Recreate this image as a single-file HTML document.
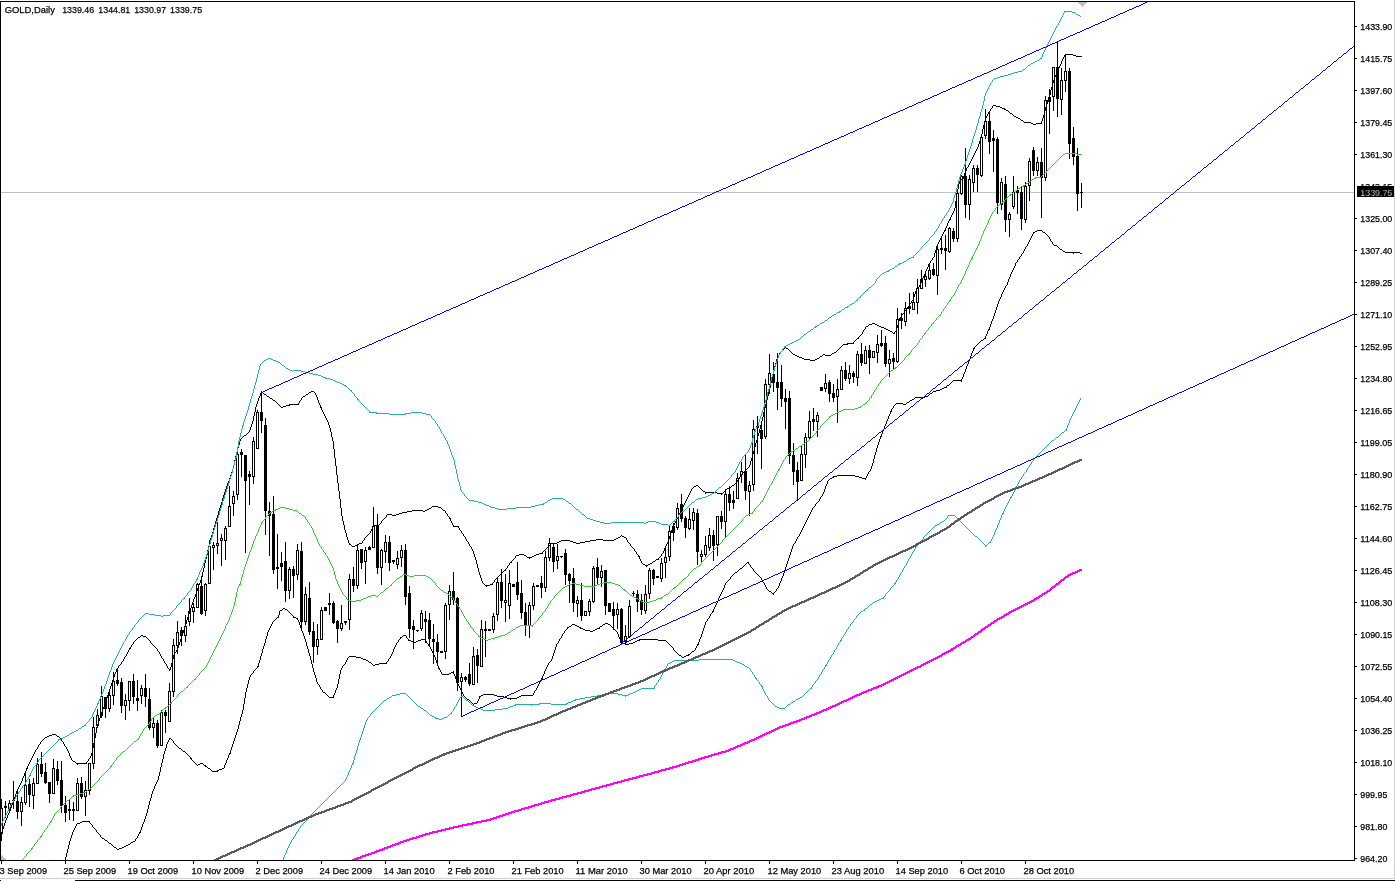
<!DOCTYPE html>
<html><head><meta charset="utf-8"><title>GOLD,Daily</title>
<style>
html,body{margin:0;padding:0;background:#fff;}
body{width:1395px;height:881px;overflow:hidden;position:relative;font-family:"Liberation Sans",sans-serif;}
svg{position:absolute;left:0;top:0;display:block;}
text{font-family:"Liberation Sans",sans-serif;font-size:9.7px;fill:#000;stroke:#000;stroke-width:0.25px;}
</style></head><body>
<svg width="1395" height="881" viewBox="0 0 1395 881" shape-rendering="crispEdges">
<rect x="0" y="0" width="1395" height="881" fill="#fff"/>

<defs><clipPath id="c"><rect x="1" y="2" width="1353" height="858"/></clipPath></defs>
<g clip-path="url(#c)">
<rect x="1" y="192" width="1354" height="1" fill="#c0c0c0"/>
<path d="M1 799h1v42h-1zM5 801h1v17h-1zM9 800h1v12h-1zM13 781h1v28h-1zM17 791h1v28h-1zM21 797h1v29h-1zM25 773h1v32h-1zM29 779h1v28h-1zM33 778h1v31h-1zM37 758h1v26h-1zM41 752h1v25h-1zM45 763h1v21h-1zM49 782h1v21h-1zM53 759h1v35h-1zM57 761h1v24h-1zM61 761h1v52h-1zM65 796h1v26h-1zM69 799h1v21h-1zM73 802h1v19h-1zM77 778h1v33h-1zM81 777h1v22h-1zM85 781h1v35h-1zM89 763h1v32h-1zM93 717h1v52h-1zM97 709h1v19h-1zM101 686h1v32h-1zM105 697h1v21h-1zM109 690h1v22h-1zM113 672h1v33h-1zM117 669h1v17h-1zM121 678h1v35h-1zM125 694h1v26h-1zM129 681h1v30h-1zM133 674h1v30h-1zM137 680h1v31h-1zM141 685h1v19h-1zM145 674h1v33h-1zM149 688h1v42h-1zM153 717h1v21h-1zM157 720h1v28h-1zM161 710h1v36h-1zM165 710h1v23h-1zM169 683h1v39h-1zM173 639h1v58h-1zM177 621h1v33h-1zM181 627h1v19h-1zM185 615h1v27h-1zM189 598h1v28h-1zM193 603h1v20h-1zM197 583h1v25h-1zM201 576h1v39h-1zM205 583h1v33h-1zM209 540h1v44h-1zM213 542h1v28h-1zM217 522h1v32h-1zM221 534h1v32h-1zM225 526h1v34h-1zM229 486h1v41h-1zM233 491h1v25h-1zM237 452h1v48h-1zM241 449h1v28h-1zM245 455h1v98h-1zM249 471h1v34h-1zM253 437h1v47h-1zM257 410h1v39h-1zM261 391h1v42h-1zM265 418h1v117h-1zM269 502h1v54h-1zM273 496h1v78h-1zM277 534h1v55h-1zM281 552h1v29h-1zM285 542h1v60h-1zM289 567h1v32h-1zM293 566h1v32h-1zM297 544h1v36h-1zM301 542h1v86h-1zM305 587h1v38h-1zM309 582h1v53h-1zM313 622h1v41h-1zM317 624h1v31h-1zM321 607h1v33h-1zM325 607h1v4h-1zM329 593h1v22h-1zM333 601h1v23h-1zM337 620h1v23h-1zM341 605h1v26h-1zM345 621h1v4h-1zM349 574h1v56h-1zM353 567h1v25h-1zM357 546h1v43h-1zM361 549h1v20h-1zM365 547h1v37h-1zM369 546h1v4h-1zM373 507h1v41h-1zM377 514h1v60h-1zM381 549h1v36h-1zM385 535h1v28h-1zM389 536h1v35h-1zM393 560h1v4h-1zM397 551h1v18h-1zM401 545h1v22h-1zM405 544h1v61h-1zM409 586h1v52h-1zM413 620h1v29h-1zM417 630h1v2h-1zM421 610h1v21h-1zM425 611h1v32h-1zM429 613h1v34h-1zM433 624h1v40h-1zM437 634h1v29h-1zM441 651h1v2h-1zM445 603h1v56h-1zM449 585h1v35h-1zM453 572h1v33h-1zM457 597h1v94h-1zM461 673h1v44h-1zM465 676h1v6h-1zM469 663h1v23h-1zM473 647h1v38h-1zM477 649h1v34h-1zM481 620h1v47h-1zM485 621h1v36h-1zM489 629h1v2h-1zM493 613h1v20h-1zM497 578h1v43h-1zM501 569h1v39h-1zM505 574h1v48h-1zM509 570h1v49h-1zM513 584h1v3h-1zM517 562h1v38h-1zM521 580h1v39h-1zM525 603h1v33h-1zM529 602h1v36h-1zM533 583h1v27h-1zM537 585h1v2h-1zM541 576h1v22h-1zM545 551h1v41h-1zM549 538h1v23h-1zM553 544h1v28h-1zM557 544h1v25h-1zM561 556h1v2h-1zM565 549h1v36h-1zM569 573h1v30h-1zM573 568h1v44h-1zM577 596h1v21h-1zM581 583h1v38h-1zM585 611h1v5h-1zM589 599h1v17h-1zM593 566h1v37h-1zM597 558h1v27h-1zM601 565h1v22h-1zM605 570h1v45h-1zM609 603h1v9h-1zM613 602h1v28h-1zM617 603h1v26h-1zM621 608h1v36h-1zM625 625h1v20h-1zM629 600h1v38h-1zM633 591h1v5h-1zM637 590h1v22h-1zM641 594h1v21h-1zM645 585h1v29h-1zM649 568h1v31h-1zM653 569h1v16h-1zM657 576h1v2h-1zM661 558h1v24h-1zM665 548h1v30h-1zM669 526h1v35h-1zM673 523h1v18h-1zM677 503h1v27h-1zM681 494h1v28h-1zM685 516h1v22h-1zM689 508h1v22h-1zM693 508h1v22h-1zM697 509h1v56h-1zM701 550h1v12h-1zM705 536h1v21h-1zM709 528h1v23h-1zM713 530h1v31h-1zM717 516h1v40h-1zM721 511h1v18h-1zM725 489h1v48h-1zM729 486h1v25h-1zM733 491h1v18h-1zM737 473h1v26h-1zM741 462h1v21h-1zM745 455h1v45h-1zM749 481h1v35h-1zM753 420h1v71h-1zM757 416h1v38h-1zM761 425h1v44h-1zM765 379h1v60h-1zM769 354h1v40h-1zM773 362h1v30h-1zM777 353h1v57h-1zM781 365h1v42h-1zM785 389h1v40h-1zM789 391h1v73h-1zM793 443h1v42h-1zM797 462h1v39h-1zM801 446h1v35h-1zM805 433h1v35h-1zM809 411h1v29h-1zM813 408h1v23h-1zM817 412h1v25h-1zM821 387h1v4h-1zM825 374h1v18h-1zM829 380h1v22h-1zM833 384h1v18h-1zM837 379h1v44h-1zM841 366h1v24h-1zM845 362h1v19h-1zM849 365h1v19h-1zM853 371h1v12h-1zM857 351h1v35h-1zM861 343h1v23h-1zM865 346h1v18h-1zM869 345h1v29h-1zM873 351h1v7h-1zM877 335h1v28h-1zM881 330h1v17h-1zM885 336h1v31h-1zM889 350h1v27h-1zM893 353h1v16h-1zM897 308h1v55h-1zM901 313h1v16h-1zM905 302h1v24h-1zM909 293h1v21h-1zM913 292h1v18h-1zM917 279h1v35h-1zM921 270h1v19h-1zM925 271h1v16h-1zM929 263h1v17h-1zM933 263h1v13h-1zM937 245h1v50h-1zM941 237h1v17h-1zM945 235h1v35h-1zM949 227h1v26h-1zM953 228h1v14h-1zM957 189h1v53h-1zM961 175h1v20h-1zM965 148h1v70h-1zM969 175h1v45h-1zM973 165h1v27h-1zM977 165h1v27h-1zM981 135h1v42h-1zM985 109h1v30h-1zM989 111h1v43h-1zM993 130h1v42h-1zM997 137h1v77h-1zM1001 178h1v32h-1zM1005 176h1v56h-1zM1009 212h1v25h-1zM1013 176h1v33h-1zM1017 186h1v28h-1zM1021 186h1v44h-1zM1025 182h1v41h-1zM1029 158h1v43h-1zM1033 147h1v29h-1zM1037 157h1v19h-1zM1041 148h1v70h-1zM1045 96h1v85h-1zM1049 89h1v45h-1zM1053 67h1v44h-1zM1057 42h1v75h-1zM1061 68h1v47h-1zM1065 54h1v38h-1zM1069 68h1v91h-1zM1073 127h1v38h-1zM1077 148h1v63h-1zM1081 183h1v25h-1z" fill="#000"/>
<path d="M0 808h3v26h-3zM4 806h3v2h-3zM8 803h3v7h-3zM12 800h3v1h-3zM16 801h3v11h-3zM20 802h3v10h-3zM24 785h3v18h-3zM28 784h3v11h-3zM32 783h3v13h-3zM36 764h3v20h-3zM40 764h3v10h-3zM44 772h3v11h-3zM48 782h3v12h-3zM52 768h3v26h-3zM56 769h3v12h-3zM60 780h3v26h-3zM64 805h3v8h-3zM68 809h3v2h-3zM72 809h3v2h-3zM76 783h3v28h-3zM80 783h3v14h-3zM84 790h3v7h-3zM88 763h3v28h-3zM92 727h3v37h-3zM96 715h3v11h-3zM100 696h3v20h-3zM104 697h3v12h-3zM108 695h3v14h-3zM112 681h3v15h-3zM116 680h3v4h-3zM120 682h3v24h-3zM124 700h3v6h-3zM128 681h3v20h-3zM132 681h3v16h-3zM136 698h3v3h-3zM140 688h3v8h-3zM144 688h3v9h-3zM148 699h3v29h-3zM152 723h3v5h-3zM156 723h3v23h-3zM160 712h3v34h-3zM164 712h3v4h-3zM168 691h3v31h-3zM172 645h3v47h-3zM176 632h3v14h-3zM180 630h3v6h-3zM184 626h3v10h-3zM188 611h3v11h-3zM192 607h3v5h-3zM196 584h3v24h-3zM200 586h3v28h-3zM204 584h3v27h-3zM208 546h3v38h-3zM212 545h3v3h-3zM216 543h3v3h-3zM220 538h3v3h-3zM224 528h3v13h-3zM228 506h3v21h-3zM232 496h3v8h-3zM236 454h3v41h-3zM240 452h3v3h-3zM244 455h3v26h-3zM248 474h3v3h-3zM252 441h3v36h-3zM256 412h3v37h-3zM260 412h3v9h-3zM264 425h3v86h-3zM268 511h3v5h-3zM272 514h3v56h-3zM276 567h3v2h-3zM280 563h3v4h-3zM284 561h3v30h-3zM288 569h3v22h-3zM292 569h3v7h-3zM296 550h3v25h-3zM300 551h3v71h-3zM304 594h3v28h-3zM308 598h3v34h-3zM312 631h3v16h-3zM316 639h3v8h-3zM320 610h3v30h-3zM324 607h3v4h-3zM328 603h3v2h-3zM332 603h3v20h-3zM336 621h3v8h-3zM340 623h3v6h-3zM344 621h3v2h-3zM348 579h3v41h-3zM352 579h3v7h-3zM356 550h3v36h-3zM360 549h3v14h-3zM364 550h3v12h-3zM368 547h3v3h-3zM372 526h3v22h-3zM376 526h3v42h-3zM380 550h3v18h-3zM384 542h3v10h-3zM388 542h3v21h-3zM392 560h3v2h-3zM396 558h3v7h-3zM400 550h3v8h-3zM404 550h3v47h-3zM408 593h3v36h-3zM412 626h3v4h-3zM416 630h3v1h-3zM420 613h3v16h-3zM424 619h3v3h-3zM428 620h3v19h-3zM432 639h3v3h-3zM436 642h3v10h-3zM440 651h3v2h-3zM444 605h3v47h-3zM448 591h3v14h-3zM452 591h3v9h-3zM456 598h3v85h-3zM460 677h3v5h-3zM464 677h3v3h-3zM468 674h3v10h-3zM472 656h3v29h-3zM476 655h3v11h-3zM480 629h3v38h-3zM484 629h3v2h-3zM488 629h3v2h-3zM492 616h3v14h-3zM496 582h3v33h-3zM500 582h3v19h-3zM504 600h3v3h-3zM508 583h3v23h-3zM512 584h3v3h-3zM516 582h3v13h-3zM520 593h3v20h-3zM524 612h3v14h-3zM528 605h3v21h-3zM532 586h3v20h-3zM536 585h3v2h-3zM540 583h3v5h-3zM544 557h3v31h-3zM548 543h3v15h-3zM552 547h3v15h-3zM556 556h3v5h-3zM560 556h3v1h-3zM564 553h3v22h-3zM568 574h3v7h-3zM572 578h3v25h-3zM576 600h3v4h-3zM580 600h3v16h-3zM584 611h3v5h-3zM588 601h3v11h-3zM592 568h3v34h-3zM596 567h3v11h-3zM600 571h3v7h-3zM604 570h3v36h-3zM608 603h3v9h-3zM612 609h3v7h-3zM616 609h3v6h-3zM620 609h3v34h-3zM624 636h3v6h-3zM628 606h3v31h-3zM632 593h3v1h-3zM636 594h3v8h-3zM640 600h3v10h-3zM644 594h3v17h-3zM648 570h3v24h-3zM652 570h3v9h-3zM656 576h3v2h-3zM660 563h3v16h-3zM664 557h3v6h-3zM668 531h3v26h-3zM672 526h3v7h-3zM676 508h3v20h-3zM680 504h3v15h-3zM684 518h3v10h-3zM688 519h3v10h-3zM692 512h3v9h-3zM696 513h3v39h-3zM700 554h3v3h-3zM704 545h3v10h-3zM708 535h3v13h-3zM712 535h3v11h-3zM716 516h3v29h-3zM720 516h3v6h-3zM724 494h3v28h-3zM728 494h3v9h-3zM732 500h3v3h-3zM736 478h3v21h-3zM740 471h3v4h-3zM744 471h3v20h-3zM748 485h3v7h-3zM752 429h3v56h-3zM756 426h3v2h-3zM760 430h3v9h-3zM764 384h3v53h-3zM768 373h3v12h-3zM772 374h3v9h-3zM776 382h3v6h-3zM780 382h3v17h-3zM784 398h3v4h-3zM788 398h3v58h-3zM792 455h3v17h-3zM796 470h3v12h-3zM800 454h3v27h-3zM804 437h3v18h-3zM808 421h3v17h-3zM812 419h3v3h-3zM816 415h3v7h-3zM820 387h3v4h-3zM824 383h3v6h-3zM828 382h3v12h-3zM832 393h3v5h-3zM836 389h3v8h-3zM840 370h3v20h-3zM844 370h3v9h-3zM848 373h3v6h-3zM852 373h3v4h-3zM856 354h3v24h-3zM860 354h3v9h-3zM864 350h3v14h-3zM868 350h3v8h-3zM872 351h3v7h-3zM876 344h3v9h-3zM880 343h3v3h-3zM884 343h3v21h-3zM888 359h3v5h-3zM892 358h3v4h-3zM896 319h3v43h-3zM900 318h3v3h-3zM904 308h3v14h-3zM908 306h3v3h-3zM912 302h3v8h-3zM916 288h3v15h-3zM920 279h3v10h-3zM924 276h3v4h-3zM928 270h3v9h-3zM932 269h3v6h-3zM936 249h3v27h-3zM940 248h3v2h-3zM944 248h3v3h-3zM948 228h3v24h-3zM952 231h3v8h-3zM956 193h3v46h-3zM960 176h3v18h-3zM964 176h3v29h-3zM968 179h3v26h-3zM972 168h3v15h-3zM976 168h3v7h-3zM980 137h3v39h-3zM984 121h3v15h-3zM988 121h3v21h-3zM992 138h3v3h-3zM996 139h3v64h-3zM1000 182h3v23h-3zM1004 184h3v36h-3zM1008 214h3v6h-3zM1012 192h3v15h-3zM1016 190h3v3h-3zM1020 192h3v27h-3zM1024 186h3v34h-3zM1028 161h3v25h-3zM1032 150h3v21h-3zM1036 162h3v9h-3zM1040 162h3v16h-3zM1044 100h3v78h-3zM1048 97h3v5h-3zM1052 67h3v30h-3zM1056 67h3v32h-3zM1060 80h3v20h-3zM1064 71h3v10h-3zM1068 71h3v73h-3zM1072 138h3v19h-3zM1076 156h3v38h-3zM1080 192h3v1h-3z" fill="#000"/>
<path d="M1 809h1v24h-1zM9 804h1v5h-1zM21 803h1v8h-1zM25 786h1v16h-1zM33 784h1v11h-1zM37 765h1v18h-1zM53 769h1v24h-1zM77 784h1v26h-1zM85 791h1v5h-1zM89 764h1v26h-1zM93 728h1v35h-1zM97 716h1v9h-1zM101 697h1v18h-1zM109 696h1v12h-1zM113 682h1v13h-1zM125 701h1v4h-1zM129 682h1v18h-1zM141 689h1v6h-1zM153 724h1v3h-1zM161 713h1v32h-1zM169 692h1v29h-1zM173 646h1v45h-1zM177 633h1v12h-1zM185 627h1v8h-1zM189 612h1v9h-1zM193 608h1v3h-1zM197 585h1v22h-1zM205 585h1v25h-1zM209 547h1v36h-1zM213 546h1v1h-1zM217 544h1v1h-1zM221 539h1v1h-1zM225 529h1v11h-1zM229 507h1v19h-1zM233 497h1v6h-1zM237 455h1v39h-1zM253 442h1v34h-1zM257 413h1v35h-1zM289 570h1v20h-1zM297 551h1v23h-1zM305 595h1v26h-1zM317 640h1v6h-1zM321 611h1v28h-1zM341 624h1v4h-1zM349 580h1v39h-1zM357 551h1v34h-1zM365 551h1v10h-1zM373 527h1v20h-1zM381 551h1v16h-1zM385 543h1v8h-1zM397 559h1v5h-1zM401 551h1v6h-1zM421 614h1v14h-1zM445 606h1v45h-1zM449 592h1v12h-1zM461 678h1v3h-1zM473 657h1v27h-1zM481 630h1v36h-1zM493 617h1v12h-1zM497 583h1v31h-1zM505 601h1v1h-1zM509 584h1v21h-1zM529 606h1v19h-1zM533 587h1v18h-1zM545 558h1v29h-1zM549 544h1v13h-1zM557 557h1v3h-1zM577 601h1v2h-1zM585 612h1v3h-1zM589 602h1v9h-1zM593 569h1v32h-1zM601 572h1v5h-1zM617 610h1v4h-1zM625 637h1v4h-1zM629 607h1v29h-1zM645 595h1v15h-1zM649 571h1v22h-1zM661 564h1v14h-1zM665 558h1v4h-1zM669 532h1v24h-1zM677 509h1v18h-1zM689 520h1v8h-1zM693 513h1v7h-1zM701 555h1v1h-1zM705 546h1v8h-1zM709 536h1v11h-1zM717 517h1v27h-1zM725 495h1v26h-1zM737 479h1v19h-1zM741 472h1v2h-1zM749 486h1v5h-1zM753 430h1v54h-1zM765 385h1v51h-1zM769 374h1v10h-1zM801 455h1v25h-1zM805 438h1v16h-1zM809 422h1v15h-1zM817 416h1v5h-1zM825 384h1v4h-1zM837 390h1v6h-1zM841 371h1v18h-1zM849 374h1v4h-1zM857 355h1v22h-1zM865 351h1v12h-1zM873 352h1v5h-1zM877 345h1v7h-1zM889 360h1v3h-1zM897 320h1v41h-1zM905 309h1v12h-1zM913 303h1v6h-1zM917 289h1v13h-1zM921 280h1v8h-1zM925 277h1v2h-1zM929 271h1v7h-1zM937 250h1v25h-1zM949 229h1v22h-1zM957 194h1v44h-1zM961 177h1v16h-1zM969 180h1v24h-1zM973 169h1v13h-1zM981 138h1v37h-1zM985 122h1v13h-1zM1001 183h1v21h-1zM1009 215h1v4h-1zM1013 193h1v13h-1zM1025 187h1v32h-1zM1029 162h1v23h-1zM1037 163h1v7h-1zM1045 101h1v76h-1zM1053 68h1v28h-1zM1061 81h1v18h-1zM1065 72h1v8h-1z" fill="#fff"/>
<path d="M352 546h3v1h-3zM1 832h2v1h-2zM643 564h2v1h-2zM648 564h2v1h-2zM539 553h4v1h-4zM645 565h3v1h-3zM76 763h11v1h-11zM504 570h2v1h-2zM402 512h5v1h-5zM1031 123h2v1h-2zM1036 123h6v1h-6zM561 540h9v1h-9zM590 540h6v1h-6zM603 540h11v1h-11zM349 544h2v1h-2zM357 544h2v1h-2zM795 355h2v1h-2zM825 355h6v1h-6zM527 557h5v1h-5zM453 526h6v1h-6zM1021 120h2v1h-2zM1014 116h2v1h-2zM270 398h2v1h-2zM1065 54h8v1h-8zM886 329h2v1h-2zM267 396h2v1h-2zM303 396h2v1h-2zM449 518h2v1h-2zM596 539h7v1h-7zM614 539h2v1h-2zM359 543h3v1h-3zM550 543h7v1h-7zM576 543h4v1h-4zM96 727h2v1h-2zM47 736h2v1h-2zM57 736h2v1h-2zM485 585h5v1h-5zM877 325h2v1h-2zM793 354h2v1h-2zM823 354h2v1h-2zM717 493h6v1h-6zM866 326h2v1h-2zM879 326h2v1h-2zM696 485h2v1h-2zM732 485h2v1h-2zM1010 113h2v1h-2zM138 637h2v1h-2zM141 635h2v1h-2zM289 404h10v1h-10zM735 483h2v1h-2zM993 105h3v1h-3zM949 219h2v1h-2zM532 556h2v1h-2zM638 556h2v1h-2zM355 545h3v1h-3zM407 511h5v1h-5zM423 511h2v1h-2zM286 405h4v1h-4zM729 487h2v1h-2zM888 330h2v1h-2zM490 584h3v1h-3zM392 515h4v1h-4zM905 310h2v1h-2zM559 541h2v1h-2zM570 541h3v1h-3zM585 541h5v1h-5zM387 514h5v1h-5zM396 514h3v1h-3zM516 555h3v1h-3zM524 555h2v1h-2zM534 555h2v1h-2zM1024 122h7v1h-7zM996 106h4v1h-4zM281 407h2v1h-2zM320 407h2v1h-2zM653 561h2v1h-2zM810 360h5v1h-5zM772 374h2v1h-2zM52 734h4v1h-4zM799 357h3v1h-3zM519 554h5v1h-5zM536 554h3v1h-3zM373 525h6v1h-6zM705 492h12v1h-12zM899 318h2v1h-2zM311 391h3v1h-3zM273 400h2v1h-2zM1033 124h3v1h-3zM804 359h6v1h-6zM815 359h2v1h-2zM940 238h2v1h-2zM694 486h2v1h-2zM616 538h2v1h-2zM618 537h2v1h-2zM624 537h2v1h-2zM832 353h2v1h-2zM557 542h2v1h-2zM573 542h3v1h-3zM580 542h5v1h-5zM429 508h2v1h-2zM797 356h2v1h-2zM820 356h2v1h-2zM1002 108h3v1h-3zM1000 107h2v1h-2zM264 394h2v1h-2zM306 394h2v1h-2zM438 507h3v1h-3zM869 324h3v1h-3zM875 324h2v1h-2zM427 509h2v1h-2zM681 509h2v1h-2zM283 406h3v1h-3zM412 510h11v1h-11zM425 510h2v1h-2zM443 510h2v1h-2zM936 246h2v1h-2zM650 563h2v1h-2zM169 669h2v1h-2zM432 506h6v1h-6zM399 513h3v1h-3zM847 343h7v1h-7zM944 230h2v1h-2zM703 491h2v1h-2zM884 328h2v1h-2zM173 655h2v1h-2zM622 536h2v1h-2zM261 392h2v1h-2zM309 392h2v1h-2zM727 488h2v1h-2zM802 358h2v1h-2zM817 358h2v1h-2zM49 735h3v1h-3zM881 327h3v1h-3zM872 323h3v1h-3zM244 435h2v1h-2zM1073 55h3v1h-3zM834 352h2v1h-2zM1016 117h2v1h-2zM73 761h2v1h-2zM129 648h2v1h-2zM857 338h2v1h-2zM510 562h2v1h-2zM1004 109h2v1h-2zM1076 56h6v1h-6zM843 344h5v1h-5zM786 348h2v1h-2zM1018 118h2v1h-2zM890 331h2v1h-2zM962 178h2v1h-2zM143 636h3v1h-3zM656 559h3v1h-3zM1006 110h2v1h-2zM893 333h2v1h-2zM965 170h2v1h-2zM912 300h2v1h-2zM45 737h2v1h-2zM1049 94h2v1h-2zM26 768h2v1h-2zM188 614h1v3h-1zM631 546h1v1h-1zM105 701h1v3h-1zM254 412h1v4h-1zM129 649h1v1h-1zM195 594h1v3h-1zM772 375h1v4h-1zM221 502h1v3h-1zM346 533h1v4h-1zM175 652h1v1h-1zM113 677h1v3h-1zM1049 95h1v2h-1zM481 578h1v3h-1zM918 287h1v1h-1zM763 412h1v5h-1zM339 491h1v8h-1zM372 527h1v2h-1zM203 568h1v4h-1zM445 511h1v2h-1zM930 261h1v2h-1zM964 173h1v3h-1zM229 478h1v3h-1zM942 234h1v2h-1zM954 208h1v3h-1zM69 753h1v3h-1zM822 355h1v1h-1zM754 447h1v4h-1zM148 639h1v1h-1zM258 398h1v3h-1zM983 125h1v4h-1zM914 294h1v3h-1zM470 546h1v1h-1zM473 551h1v3h-1zM1053 80h1v3h-1zM938 242h1v2h-1zM775 363h1v3h-1zM166 664h1v2h-1zM38 745h1v2h-1zM864 329h1v1h-1zM137 638h1v1h-1zM767 396h1v4h-1zM26 769h1v2h-1zM92 748h1v5h-1zM167 666h1v2h-1zM342 516h1v5h-1zM668 539h1v3h-1zM734 484h1v1h-1zM338 483h1v8h-1zM132 644h1v1h-1zM1061 61h1v3h-1zM233 465h1v4h-1zM836 351h1v1h-1zM34 752h1v2h-1zM186 620h1v4h-1zM88 759h1v2h-1zM988 112h1v2h-1zM253 416h1v5h-1zM676 519h1v2h-1zM128 650h1v2h-1zM220 505h1v3h-1zM770 383h1v5h-1zM173 656h1v3h-1zM371 529h1v2h-1zM237 448h1v4h-1zM227 483h1v3h-1zM158 651h1v1h-1zM974 153h1v2h-1zM124 657h1v2h-1zM753 451h1v3h-1zM982 129h1v5h-1zM159 652h1v2h-1zM182 633h1v3h-1zM5 820h1v3h-1zM256 404h1v3h-1zM937 244h1v2h-1zM299 401h1v2h-1zM331 432h1v5h-1zM774 366h1v4h-1zM958 184h1v5h-1zM970 161h1v2h-1zM37 747h1v2h-1zM632 547h1v1h-1zM215 521h1v4h-1zM515 556h1v2h-1zM633 548h1v1h-1zM666 544h1v2h-1zM691 489h1v2h-1zM766 400h1v4h-1zM232 469h1v3h-1zM790 351h1v1h-1zM922 278h1v2h-1zM33 754h1v2h-1zM946 226h1v2h-1zM447 514h1v2h-1zM675 521h1v2h-1zM127 652h1v2h-1zM71 758h1v2h-1zM721 494h1v1h-1zM94 738h1v5h-1zM150 641h1v2h-1zM1057 70h1v3h-1zM172 659h1v4h-1zM335 458h1v8h-1zM236 452h1v4h-1zM472 549h1v2h-1zM235 456h1v4h-1zM123 659h1v2h-1zM761 421h1v4h-1zM4 823h1v3h-1zM255 407h1v5h-1zM969 163h1v2h-1zM957 189h1v5h-1zM337 475h1v8h-1zM1051 87h1v3h-1zM223 495h1v3h-1zM965 171h1v2h-1zM665 546h1v2h-1zM765 404h1v4h-1zM240 439h1v2h-1zM756 440h1v3h-1zM60 738h1v1h-1zM920 283h1v2h-1zM945 228h1v2h-1zM320 405h1v2h-1zM932 258h1v2h-1zM782 350h1v1h-1zM8 813h1v2h-1zM340 499h1v9h-1zM185 624h1v3h-1zM1048 97h1v3h-1zM904 311h1v2h-1zM777 357h1v2h-1zM661 554h1v2h-1zM453 525h1v1h-1zM769 388h1v4h-1zM327 420h1v2h-1zM218 511h1v4h-1zM760 425h1v4h-1zM475 557h1v3h-1zM179 642h1v3h-1zM634 549h1v2h-1zM343 521h1v4h-1zM968 165h1v2h-1zM548 546h1v1h-1zM635 551h1v1h-1zM980 138h1v3h-1zM1043 115h1v3h-1zM747 468h1v1h-1zM764 408h1v4h-1zM238 445h1v3h-1zM349 543h1v1h-1zM944 231h1v1h-1zM755 443h1v4h-1zM114 674h1v3h-1zM977 147h1v2h-1zM449 517h1v1h-1zM7 815h1v3h-1zM183 630h1v3h-1zM152 644h1v1h-1zM960 180h1v1h-1zM776 359h1v4h-1zM250 427h1v3h-1zM739 477h1v2h-1zM927 267h1v2h-1zM226 486h1v3h-1zM217 515h1v3h-1zM101 712h1v3h-1zM1054 77h1v3h-1zM15 794h1v3h-1zM680 511h1v2h-1zM842 345h1v1h-1zM336 466h1v9h-1zM39 744h1v1h-1zM234 460h1v5h-1zM759 429h1v4h-1zM860 335h1v1h-1zM750 461h1v4h-1zM669 536h1v3h-1zM1062 59h1v2h-1zM61 739h1v2h-1zM1041 121h1v2h-1zM62 741h1v1h-1zM441 508h1v1h-1zM976 149h1v2h-1zM42 740h1v1h-1zM959 181h1v3h-1zM738 479h1v1h-1zM840 347h1v1h-1zM926 269h1v2h-1zM972 157h1v2h-1zM950 217h1v2h-1zM200 580h1v3h-1zM474 554h1v3h-1zM14 797h1v2h-1zM679 513h1v2h-1zM496 578h1v1h-1zM992 106h1v2h-1zM910 303h1v1h-1zM477 564h1v4h-1zM758 433h1v3h-1zM96 728h1v5h-1zM22 778h1v3h-1zM664 548h1v3h-1zM104 704h1v3h-1zM688 495h1v2h-1zM194 597h1v2h-1zM955 201h1v7h-1zM111 683h1v3h-1zM762 417h1v4h-1zM984 121h1v4h-1zM503 571h1v1h-1zM341 508h1v8h-1zM386 515h1v2h-1zM298 403h1v1h-1zM207 550h1v5h-1zM514 558h1v1h-1zM949 220h1v1h-1zM332 437h1v4h-1zM116 669h1v3h-1zM909 304h1v2h-1zM757 436h1v4h-1zM21 781h1v2h-1zM674 523h1v2h-1zM483 583h1v1h-1zM687 497h1v2h-1zM17 789h1v2h-1zM778 355h1v2h-1zM29 762h1v2h-1zM683 505h1v2h-1zM107 695h1v3h-1zM197 588h1v3h-1zM176 650h1v2h-1zM334 449h1v9h-1zM239 441h1v4h-1zM317 397h1v3h-1zM184 627h1v3h-1zM373 526h1v1h-1zM724 491h1v1h-1zM259 396h1v2h-1zM468 542h1v2h-1zM16 791h1v3h-1zM865 327h1v2h-1zM28 764h1v2h-1zM157 649h1v2h-1zM740 475h1v2h-1zM768 392h1v4h-1zM160 654h1v2h-1zM899 319h1v2h-1zM953 211h1v2h-1zM366 536h1v1h-1zM98 721h1v3h-1zM956 194h1v7h-1zM861 334h1v1h-1zM478 568h1v4h-1zM896 328h1v3h-1zM196 591h1v3h-1zM263 393h1v1h-1zM743 472h1v1h-1zM209 542h1v4h-1zM43 739h1v1h-1zM841 346h1v1h-1zM692 488h1v1h-1zM187 617h1v3h-1zM333 441h1v8h-1zM380 523h1v1h-1zM315 393h1v2h-1zM322 410h1v2h-1zM963 176h1v2h-1zM975 151h1v2h-1zM463 534h1v2h-1zM466 539h1v2h-1zM329 425h1v3h-1zM163 659h1v2h-1zM1045 107h1v4h-1zM121 662h1v2h-1zM495 579h1v1h-1zM667 542h1v2h-1zM934 253h1v4h-1zM272 399h1v1h-1zM726 489h1v1h-1zM987 114h1v2h-1zM212 532h1v3h-1zM507 566h1v2h-1zM671 530h1v3h-1zM502 572h1v1h-1zM898 321h1v4h-1zM120 664h1v1h-1zM494 580h1v2h-1zM1 833h1v4h-1zM921 280h1v3h-1zM279 405h1v1h-1zM95 733h1v5h-1zM64 744h1v2h-1zM211 535h1v3h-1zM686 499h1v2h-1zM506 568h1v1h-1zM917 288h1v1h-1zM1056 73h1v2h-1zM941 236h1v2h-1zM658 558h1v1h-1zM328 422h1v3h-1zM1064 55h1v2h-1zM243 436h1v1h-1zM639 557h1v2h-1zM222 498h1v4h-1zM131 645h1v2h-1zM446 513h1v1h-1zM853 342h1v1h-1zM450 519h1v2h-1zM744 471h1v1h-1zM1047 100h1v4h-1zM940 239h1v1h-1zM952 213h1v2h-1zM916 289h1v2h-1zM928 264h1v3h-1zM365 537h1v1h-1zM134 641h1v1h-1zM1063 57h1v2h-1zM24 773h1v3h-1zM1042 118h1v3h-1zM269 397h1v1h-1zM66 747h1v2h-1zM126 654h1v2h-1zM501 573h1v1h-1zM225 489h1v3h-1zM652 562h1v1h-1zM110 686h1v3h-1zM122 661h1v1h-1zM384 518h1v1h-1zM3 826h1v3h-1zM364 538h1v2h-1zM117 668h1v1h-1zM637 554h1v1h-1zM379 524h1v1h-1zM87 761h1v1h-1zM638 555h1v1h-1zM23 776h1v2h-1zM35 750h1v2h-1zM1050 90h1v4h-1zM204 563h1v5h-1zM266 395h1v1h-1zM526 556h1v1h-1zM971 159h1v2h-1zM199 583h1v2h-1zM178 645h1v3h-1zM967 167h1v1h-1zM979 141h1v3h-1zM511 561h1v1h-1zM725 490h1v1h-1zM663 551h1v2h-1zM10 808h1v3h-1zM779 353h1v2h-1zM698 486h1v1h-1zM100 715h1v3h-1zM190 608h1v3h-1zM1044 111h1v4h-1zM198 585h1v3h-1zM545 549h1v1h-1zM831 354h1v1h-1zM115 672h1v2h-1zM275 401h1v1h-1zM966 168h1v2h-1zM276 402h1v1h-1zM933 257h1v1h-1zM9 811h1v2h-1zM146 637h1v1h-1zM819 357h1v1h-1zM260 393h1v3h-1zM321 408h1v2h-1zM324 414h1v2h-1zM465 537h1v2h-1zM202 572h1v5h-1zM41 741h1v1h-1zM161 656h1v2h-1zM670 533h1v3h-1zM682 507h1v2h-1zM731 486h1v1h-1zM839 348h1v1h-1zM913 297h1v3h-1zM925 271h1v3h-1zM189 611h1v3h-1zM1052 83h1v4h-1zM135 640h1v1h-1zM13 799h1v3h-1zM130 647h1v1h-1zM106 698h1v3h-1zM678 515h1v2h-1zM748 467h1v1h-1zM347 537h1v3h-1zM1060 64h1v2h-1zM482 581h1v2h-1zM961 179h1v1h-1zM193 599h1v3h-1zM301 398h1v2h-1zM431 507h1v1h-1zM752 454h1v4h-1zM627 540h1v2h-1zM701 489h1v1h-1zM40 742h1v2h-1zM981 134h1v4h-1zM936 247h1v3h-1zM773 370h1v4h-1zM948 221h1v2h-1zM97 724h1v3h-1zM788 349h1v1h-1zM677 517h1v2h-1zM895 331h1v1h-1zM316 395h1v2h-1zM508 565h1v1h-1zM277 403h1v1h-1zM1059 66h1v2h-1zM278 404h1v1h-1zM20 783h1v2h-1zM32 756h1v2h-1zM125 656h1v1h-1zM192 602h1v3h-1zM77 764h1v1h-1zM467 541h1v1h-1zM149 640h1v1h-1zM208 546h1v4h-1zM300 400h1v1h-1zM171 663h1v4h-1zM500 574h1v1h-1zM109 689h1v3h-1zM330 428h1v4h-1zM383 519h1v1h-1zM935 250h1v3h-1zM947 223h1v3h-1zM492 583h1v1h-1zM484 584h1v1h-1zM672 527h1v3h-1zM659 557h1v1h-1zM31 758h1v2h-1zM72 760h1v1h-1zM27 766h1v2h-1zM169 670h1v1h-1zM224 492h1v3h-1zM241 438h1v1h-1zM480 575h1v3h-1zM745 470h1v1h-1zM771 379h1v4h-1zM348 540h1v3h-1zM174 653h1v2h-1zM68 751h1v2h-1zM929 263h1v1h-1zM228 481h1v2h-1zM529 558h1v1h-1zM476 560h1v4h-1zM863 330h1v2h-1zM206 555h1v4h-1zM91 753h1v3h-1zM344 525h1v5h-1zM544 550h1v1h-1zM636 552h1v2h-1zM858 337h1v1h-1zM177 648h1v2h-1zM978 144h1v3h-1zM486 586h1v1h-1zM210 538h1v4h-1zM370 531h1v2h-1zM302 397h1v1h-1zM1020 119h1v1h-1zM181 636h1v3h-1zM838 349h1v1h-1zM36 749h1v1h-1zM862 332h1v2h-1zM990 109h1v2h-1zM362 541h1v2h-1zM214 525h1v3h-1zM690 491h1v2h-1zM479 572h1v3h-1zM986 116h1v2h-1zM67 749h1v2h-1zM153 645h1v1h-1zM93 743h1v5h-1zM44 738h1v1h-1zM973 155h1v2h-1zM180 639h1v3h-1zM911 301h1v2h-1zM693 487h1v1h-1zM512 560h1v1h-1zM213 528h1v4h-1zM641 561h1v2h-1zM689 493h1v2h-1zM907 307h1v2h-1zM780 352h1v1h-1zM308 393h1v1h-1zM448 516h1v1h-1zM723 492h1v1h-1zM902 314h1v1h-1zM685 501h1v2h-1zM326 418h1v2h-1zM323 412h1v2h-1zM499 575h1v1h-1zM546 548h1v1h-1zM2 829h1v3h-1zM345 530h1v3h-1zM784 348h1v1h-1zM280 406h1v1h-1zM65 746h1v1h-1zM459 528h1v2h-1zM943 232h1v2h-1zM30 760h1v2h-1zM684 503h1v2h-1zM249 430h1v2h-1zM939 240h1v2h-1zM136 639h1v1h-1zM216 518h1v3h-1zM699 487h1v1h-1zM550 544h1v1h-1zM108 692h1v3h-1zM626 538h1v2h-1zM700 488h1v1h-1zM749 465h1v2h-1zM318 400h1v3h-1zM112 680h1v3h-1zM741 474h1v1h-1zM325 416h1v2h-1zM147 638h1v1h-1zM1013 115h1v1h-1zM705 493h1v1h-1zM469 544h1v2h-1zM257 401h1v3h-1zM99 718h1v3h-1zM737 480h1v2h-1zM621 535h1v1h-1zM897 325h1v3h-1zM892 332h1v1h-1zM86 762h1v1h-1zM854 341h1v1h-1zM252 421h1v3h-1zM103 707h1v2h-1zM461 531h1v2h-1zM219 508h1v3h-1zM369 533h1v1h-1zM201 577h1v3h-1zM1008 111h1v1h-1zM1009 112h1v1h-1zM924 274h1v2h-1zM493 582h1v1h-1zM989 111h1v1h-1zM12 802h1v3h-1zM205 559h1v4h-1zM985 118h1v3h-1zM231 472h1v3h-1zM305 395h1v1h-1zM251 424h1v3h-1zM673 525h1v2h-1zM505 569h1v1h-1zM903 313h1v1h-1zM70 756h1v2h-1zM102 709h1v3h-1zM1046 104h1v3h-1zM471 547h1v2h-1zM751 458h1v3h-1zM164 661h1v2h-1zM242 437h1v1h-1zM923 276h1v2h-1zM118 666h1v2h-1zM11 805h1v3h-1zM230 475h1v3h-1zM319 403h1v2h-1zM1058 68h1v2h-1zM19 785h1v2h-1zM452 523h1v2h-1zM915 291h1v3h-1zM191 605h1v3h-1zM170 667h1v2h-1zM629 543h1v1h-1zM681 510h1v1h-1zM630 544h1v2h-1zM542 552h1v1h-1zM783 349h1v1h-1zM856 339h1v1h-1zM18 787h1v2h-1zM151 643h1v1h-1zM162 658h1v1h-1zM6 818h1v2h-1zM248 432h1v1h-1zM368 534h1v1h-1zM165 663h1v1h-1zM549 545h1v1h-1zM951 215h1v2h-1zM363 540h1v1h-1zM991 108h1v1h-1zM640 559h1v2h-1zM451 521h1v2h-1zM702 490h1v1h-1zM736 482h1v1h-1zM620 536h1v1h-1zM25 771h1v2h-1zM789 350h1v1h-1zM382 520h1v1h-1zM90 756h1v2h-1zM646 566h1v1h-1zM908 306h1v1h-1zM1023 121h1v1h-1zM901 315h1v2h-1zM497 577h1v1h-1zM785 347h1v1h-1zM59 737h1v1h-1zM381 521h1v2h-1zM642 563h1v1h-1zM509 563h1v2h-1zM63 742h1v2h-1zM1055 75h1v2h-1zM1012 114h1v1h-1zM247 433h1v1h-1zM791 352h1v1h-1zM792 353h1v1h-1zM919 285h1v2h-1zM742 473h1v1h-1zM931 260h1v1h-1zM660 556h1v1h-1zM868 325h1v1h-1zM133 642h1v2h-1zM837 350h1v1h-1zM894 332h1v1h-1zM855 340h1v1h-1zM746 469h1v1h-1zM140 636h1v1h-1zM367 535h1v1h-1zM859 336h1v1h-1zM56 735h1v1h-1zM314 392h1v1h-1zM351 545h1v1h-1zM906 309h1v1h-1zM458 527h1v1h-1zM75 762h1v1h-1zM154 646h1v1h-1zM462 533h1v1h-1zM155 647h1v1h-1zM655 560h1v1h-1zM498 576h1v1h-1zM119 665h1v1h-1zM628 542h1v1h-1zM89 758h1v1h-1zM442 509h1v1h-1zM662 553h1v1h-1zM900 317h1v1h-1zM385 517h1v1h-1zM168 668h1v1h-1zM543 551h1v1h-1zM513 559h1v1h-1zM781 351h1v1h-1zM460 530h1v1h-1zM464 536h1v1h-1zM156 648h1v1h-1zM246 434h1v1h-1zM547 547h1v1h-1z" fill="#000"/>
<path d="M832 477h2v1h-2zM859 477h3v1h-3zM623 643h2v1h-2zM629 643h4v1h-4zM411 641h3v1h-3zM416 641h2v1h-2zM635 641h2v1h-2zM692 651h2v1h-2zM575 625h2v1h-2zM217 770h2v1h-2zM280 610h2v1h-2zM114 847h2v1h-2zM122 847h2v1h-2zM379 663h8v1h-8zM329 697h5v1h-5zM504 697h3v1h-3zM517 697h2v1h-2zM375 664h4v1h-4zM82 821h8v1h-8zM421 639h5v1h-5zM639 639h19v1h-19zM277 617h2v1h-2zM293 617h3v1h-3zM449 673h2v1h-2zM585 630h5v1h-5zM593 630h2v1h-2zM1063 251h2v1h-2zM483 694h11v1h-11zM229 753h2v1h-2zM361 658h2v1h-2zM567 627h2v1h-2zM579 627h2v1h-2zM212 771h6v1h-6zM414 642h2v1h-2zM621 642h2v1h-2zM633 642h2v1h-2zM474 703h3v1h-3zM356 657h5v1h-5zM682 657h2v1h-2zM109 843h2v1h-2zM837 475h18v1h-18zM479 696h2v1h-2zM497 696h7v1h-7zM519 696h2v1h-2zM833 476h4v1h-4zM855 476h4v1h-4zM925 396h3v1h-3zM903 404h3v1h-3zM133 841h2v1h-2zM890 411h2v1h-2zM408 640h3v1h-3zM418 640h3v1h-3zM637 640h3v1h-3zM658 640h8v1h-8zM984 338h2v1h-2zM940 389h2v1h-2zM712 611h2v1h-2zM126 845h2v1h-2zM625 644h4v1h-4zM697 644h2v1h-2zM953 380h9v1h-9zM507 698h10v1h-10zM1035 231h2v1h-2zM349 656h7v1h-7zM684 656h2v1h-2zM257 666h2v1h-2zM366 660h2v1h-2zM451 672h3v1h-3zM296 618h2v1h-2zM1033 232h2v1h-2zM1043 232h2v1h-2zM572 624h3v1h-3zM603 624h2v1h-2zM608 624h2v1h-2zM442 674h7v1h-7zM481 695h2v1h-2zM494 695h3v1h-3zM521 695h12v1h-12zM947 385h2v1h-2zM915 397h10v1h-10zM403 635h3v1h-3zM747 562h2v1h-2zM1065 252h15v1h-15zM200 763h3v1h-3zM1080 253h2v1h-2zM219 769h3v1h-3zM569 626h2v1h-2zM577 626h2v1h-2zM600 626h2v1h-2zM583 629h2v1h-2zM595 629h2v1h-2zM102 838h2v1h-2zM373 665h2v1h-2zM131 842h2v1h-2zM400 637h2v1h-2zM139 832h2v1h-2zM590 631h3v1h-3zM735 572h2v1h-2zM204 765h2v1h-2zM541 678h2v1h-2zM981 340h2v1h-2zM580 628h3v1h-3zM597 628h3v1h-3zM936 390h4v1h-4zM169 738h2v1h-2zM605 623h3v1h-3zM467 699h2v1h-2zM323 692h2v1h-2zM1054 245h3v1h-3zM369 662h2v1h-2zM198 764h2v1h-2zM119 848h3v1h-3zM896 403h7v1h-7zM880 436h2v1h-2zM105 840h2v1h-2zM973 348h2v1h-2zM907 402h2v1h-2zM1060 249h2v1h-2zM688 654h2v1h-2zM124 846h2v1h-2zM128 844h2v1h-2zM438 668h2v1h-2zM205 766h2v1h-2zM1037 230h5v1h-5zM679 655h2v1h-2zM686 655h3v1h-3zM208 768h2v1h-2zM222 768h2v1h-2zM77 823h3v1h-3zM117 849h2v1h-2zM740 568h2v1h-2zM80 822h2v1h-2zM769 591h2v1h-2zM179 748h2v1h-2zM933 391h3v1h-3zM363 659h3v1h-3zM285 609h2v1h-2zM830 478h2v1h-2zM862 478h4v1h-4zM988 329h2v1h-2zM190 758h2v1h-2zM910 400h2v1h-2zM944 387h3v1h-3zM183 751h2v1h-2zM912 399h2v1h-2zM772 593h2v1h-2zM283 608h2v1h-2zM942 388h2v1h-2zM930 393h2v1h-2zM998 301h1v3h-1zM75 826h1v2h-1zM172 740h1v1h-1zM135 839h1v2h-1zM822 494h1v2h-1zM396 643h1v2h-1zM262 649h1v4h-1zM789 555h1v3h-1zM889 414h1v2h-1zM801 530h1v2h-1zM867 474h1v2h-1zM990 324h1v3h-1zM966 366h1v3h-1zM558 641h1v2h-1zM148 805h1v4h-1zM793 544h1v2h-1zM66 853h1v4h-1zM387 661h1v1h-1zM346 660h1v2h-1zM825 486h1v3h-1zM567 628h1v1h-1zM781 578h1v3h-1zM715 605h1v2h-1zM241 714h1v3h-1zM238 725h1v4h-1zM994 313h1v3h-1zM267 632h1v4h-1zM946 386h1v1h-1zM539 682h1v2h-1zM266 636h1v3h-1zM308 649h1v4h-1zM337 684h1v4h-1zM571 625h1v1h-1zM809 514h1v2h-1zM872 463h1v3h-1zM101 837h1v1h-1zM156 782h1v2h-1zM720 594h1v2h-1zM950 383h1v1h-1zM301 628h1v3h-1zM395 645h1v2h-1zM104 839h1v1h-1zM797 537h1v2h-1zM1031 236h1v2h-1zM888 416h1v3h-1zM169 739h1v1h-1zM233 741h1v3h-1zM160 767h1v5h-1zM699 639h1v3h-1zM1001 294h1v3h-1zM407 638h1v1h-1zM293 616h1v1h-1zM342 666h1v2h-1zM711 613h1v1h-1zM147 809h1v4h-1zM311 660h1v4h-1zM271 624h1v2h-1zM345 662h1v2h-1zM543 674h1v2h-1zM237 729h1v3h-1zM477 701h1v2h-1zM555 647h1v3h-1zM151 794h1v4h-1zM440 670h1v2h-1zM89 822h1v1h-1zM368 661h1v1h-1zM805 522h1v2h-1zM297 619h1v1h-1zM399 639h1v1h-1zM871 466h1v3h-1zM228 755h1v3h-1zM961 379h1v1h-1zM961 381h1v1h-1zM67 849h1v4h-1zM146 813h1v3h-1zM829 479h1v1h-1zM90 823h1v1h-1zM473 704h1v1h-1zM985 336h1v2h-1zM232 744h1v3h-1zM246 688h1v4h-1zM707 619h1v2h-1zM776 589h1v2h-1zM970 356h1v3h-1zM258 663h1v3h-1zM785 567h1v3h-1zM245 692h1v6h-1zM190 757h1v1h-1zM436 660h1v3h-1zM236 732h1v3h-1zM554 650h1v3h-1zM163 754h1v5h-1zM1010 274h1v3h-1zM406 636h1v2h-1zM74 828h1v2h-1zM878 442h1v3h-1zM458 684h1v2h-1zM261 653h1v3h-1zM879 439h1v3h-1zM1045 233h1v1h-1zM969 359h1v2h-1zM390 656h1v2h-1zM780 581h1v2h-1zM619 637h1v2h-1zM993 316h1v3h-1zM70 838h1v3h-1zM254 670h1v1h-1zM340 670h1v4h-1zM784 570h1v3h-1zM884 426h1v3h-1zM538 684h1v2h-1zM455 676h1v3h-1zM615 630h1v1h-1zM997 304h1v3h-1zM171 739h1v1h-1zM159 772h1v4h-1zM310 656h1v4h-1zM788 558h1v3h-1zM800 532h1v2h-1zM866 476h1v2h-1zM989 327h1v2h-1zM616 631h1v1h-1zM968 361h1v3h-1zM274 620h1v1h-1zM824 489h1v3h-1zM691 652h1v1h-1zM314 672h1v3h-1zM813 507h1v1h-1zM992 319h1v2h-1zM142 824h1v3h-1zM336 688h1v2h-1zM783 573h1v3h-1zM534 691h1v2h-1zM1059 248h1v1h-1zM164 751h1v3h-1zM698 642h1v2h-1zM100 835h1v2h-1zM549 662h1v1h-1zM1005 286h1v2h-1zM158 776h1v4h-1zM561 636h1v2h-1zM1017 260h1v2h-1zM722 590h1v2h-1zM796 539h1v2h-1zM435 657h1v3h-1zM244 698h1v6h-1zM734 573h1v1h-1zM874 455h1v4h-1zM341 668h1v2h-1zM270 626h1v2h-1zM457 681h1v3h-1zM618 634h1v3h-1zM542 676h1v2h-1zM303 633h1v3h-1zM757 574h1v1h-1zM738 570h1v1h-1zM965 369h1v3h-1zM398 640h1v2h-1zM980 341h1v1h-1zM227 758h1v2h-1zM239 721h1v4h-1zM545 669h1v2h-1zM1004 288h1v2h-1zM557 643h1v1h-1zM265 639h1v4h-1zM472 703h1v1h-1zM325 693h1v1h-1zM792 546h1v3h-1zM795 541h1v2h-1zM300 625h1v3h-1zM816 503h1v1h-1zM155 784h1v2h-1zM69 841h1v4h-1zM808 516h1v2h-1zM1009 277h1v2h-1zM73 830h1v2h-1zM248 680h1v4h-1zM394 647h1v2h-1zM260 656h1v4h-1zM875 452h1v3h-1zM887 419h1v2h-1zM93 827h1v1h-1zM313 668h1v4h-1zM386 662h1v1h-1zM138 834h1v2h-1zM150 798h1v3h-1zM779 583h1v3h-1zM175 744h1v1h-1zM99 834h1v1h-1zM193 761h1v1h-1zM154 786h1v3h-1zM68 845h1v4h-1zM883 429h1v2h-1zM65 857h1v3h-1zM537 686h1v2h-1zM243 704h1v6h-1zM895 404h1v1h-1zM335 690h1v3h-1zM240 717h1v4h-1zM804 524h1v2h-1zM432 651h1v2h-1zM111 844h1v1h-1zM1008 279h1v3h-1zM710 614h1v2h-1zM870 469h1v2h-1zM742 567h1v1h-1zM886 421h1v3h-1zM425 640h1v1h-1zM231 747h1v3h-1zM428 644h1v2h-1zM775 591h1v1h-1zM149 801h1v4h-1zM812 508h1v2h-1zM235 735h1v3h-1zM162 759h1v4h-1zM553 653h1v3h-1zM439 669h1v1h-1zM714 607h1v2h-1zM977 344h1v1h-1zM533 693h1v2h-1zM726 582h1v1h-1zM671 646h1v1h-1zM174 743h1v1h-1zM803 526h1v2h-1zM873 459h1v4h-1zM185 752h1v1h-1zM819 499h1v2h-1zM306 642h1v4h-1zM1016 262h1v1h-1zM348 657h1v1h-1zM264 643h1v3h-1zM1032 234h1v2h-1zM92 825h1v2h-1zM186 753h1v1h-1zM909 401h1v1h-1zM1073 253h1v1h-1zM952 381h1v1h-1zM975 346h1v1h-1zM339 674h1v5h-1zM272 622h1v2h-1zM256 668h1v1h-1zM192 760h1v1h-1zM756 573h1v1h-1zM964 372h1v2h-1zM556 644h1v3h-1zM552 656h1v3h-1zM996 307h1v3h-1zM72 832h1v3h-1zM799 534h1v2h-1zM544 671h1v3h-1zM988 330h1v1h-1zM344 664h1v1h-1zM288 611h1v1h-1zM967 364h1v2h-1zM431 649h1v2h-1zM815 504h1v2h-1zM991 321h1v3h-1zM971 353h1v3h-1zM718 598h1v3h-1zM393 649h1v3h-1zM316 678h1v4h-1zM807 518h1v2h-1zM882 431h1v3h-1zM995 310h1v3h-1zM963 374h1v3h-1zM548 663h1v2h-1zM721 592h1v2h-1zM203 764h1v1h-1zM987 331h1v3h-1zM438 666h1v2h-1zM305 639h1v3h-1zM137 836h1v2h-1zM173 741h1v2h-1zM1027 244h1v2h-1zM541 679h1v1h-1zM702 631h1v3h-1zM226 760h1v3h-1zM153 789h1v2h-1zM389 658h1v1h-1zM338 679h1v5h-1zM287 610h1v1h-1zM885 424h1v2h-1zM674 650h1v1h-1zM166 744h1v4h-1zM749 564h1v1h-1zM230 750h1v3h-1zM696 646h1v2h-1zM1003 290h1v2h-1zM434 655h1v2h-1zM928 395h1v1h-1zM234 738h1v3h-1zM145 816h1v3h-1zM247 684h1v4h-1zM564 631h1v2h-1zM312 664h1v4h-1zM1023 251h1v2h-1zM259 660h1v3h-1zM865 479h1v1h-1zM320 687h1v2h-1zM701 634h1v3h-1zM610 625h1v1h-1zM713 609h1v2h-1zM1046 234h1v1h-1zM251 674h1v1h-1zM427 643h1v1h-1zM456 679h1v2h-1zM408 639h1v1h-1zM617 632h1v2h-1zM263 646h1v3h-1zM725 583h1v2h-1zM181 749h1v1h-1zM705 622h1v3h-1zM165 748h1v3h-1zM893 406h1v2h-1zM1047 235h1v1h-1zM315 675h1v3h-1zM778 586h1v2h-1zM441 672h1v2h-1zM242 710h1v4h-1zM673 648h1v2h-1zM551 659h1v2h-1zM1007 282h1v3h-1zM560 638h1v1h-1zM144 819h1v3h-1zM71 835h1v3h-1zM1019 257h1v2h-1zM453 671h1v1h-1zM453 673h1v1h-1zM536 688h1v2h-1zM91 824h1v1h-1zM327 695h1v1h-1zM771 592h1v1h-1zM709 616h1v2h-1zM1011 272h1v2h-1zM724 585h1v3h-1zM744 565h1v1h-1zM748 563h1v1h-1zM733 574h1v1h-1zM161 763h1v4h-1zM334 693h1v2h-1zM869 471h1v1h-1zM811 510h1v2h-1zM932 392h1v1h-1zM737 571h1v1h-1zM827 481h1v3h-1zM433 653h1v2h-1zM152 791h1v3h-1zM1015 263h1v3h-1zM76 824h1v2h-1zM276 618h1v1h-1zM979 342h1v1h-1zM728 580h1v1h-1zM279 611h1v4h-1zM426 641h1v2h-1zM818 501h1v1h-1zM1050 239h1v2h-1zM319 685h1v2h-1zM983 339h1v1h-1zM876 448h1v4h-1zM666 641h1v1h-1zM774 592h1v1h-1zM786 564h1v3h-1zM802 528h1v2h-1zM430 647h1v2h-1zM116 848h1v1h-1zM225 763h1v2h-1zM437 663h1v3h-1zM388 659h1v2h-1zM326 694h1v1h-1zM704 625h1v3h-1zM719 596h1v2h-1zM602 625h1v1h-1zM1030 238h1v2h-1zM168 740h1v2h-1zM563 633h1v1h-1zM463 694h1v2h-1zM392 652h1v2h-1zM798 536h1v1h-1zM1042 231h1v1h-1zM309 653h1v3h-1zM94 828h1v1h-1zM224 765h1v3h-1zM712 612h1v1h-1zM250 675h1v2h-1zM962 377h1v2h-1zM877 445h1v3h-1zM892 408h1v1h-1zM703 628h1v3h-1zM194 762h1v1h-1zM758 575h1v1h-1zM766 587h1v2h-1zM400 638h1v1h-1zM881 434h1v2h-1zM307 646h1v3h-1zM1026 246h1v1h-1zM731 576h1v1h-1zM547 665h1v2h-1zM195 763h1v1h-1zM559 639h1v2h-1zM759 576h1v1h-1zM790 552h1v3h-1zM794 543h1v1h-1zM1049 237h1v2h-1zM762 580h1v2h-1zM695 648h1v2h-1zM821 496h1v1h-1zM951 382h1v1h-1zM974 347h1v1h-1zM333 695h1v2h-1zM566 629h1v1h-1zM1022 253h1v1h-1zM672 647h1v1h-1zM304 636h1v3h-1zM700 637h1v2h-1zM1002 292h1v2h-1zM750 565h1v2h-1zM1014 266h1v2h-1zM253 671h1v2h-1zM176 745h1v1h-1zM187 754h1v1h-1zM462 692h1v2h-1zM751 567h1v1h-1zM949 384h1v1h-1zM806 520h1v2h-1zM289 612h1v1h-1zM112 845h1v1h-1zM143 822h1v2h-1zM290 613h1v1h-1zM986 334h1v2h-1zM282 609h1v1h-1zM322 690h1v2h-1zM765 585h1v2h-1zM777 588h1v1h-1zM249 677h1v3h-1zM429 646h1v1h-1zM469 700h1v1h-1zM828 480h1v1h-1zM868 472h1v2h-1zM880 437h1v2h-1zM454 674h1v2h-1zM1006 285h1v1h-1zM716 603h1v2h-1zM1018 259h1v1h-1zM470 701h1v1h-1zM391 654h1v2h-1zM269 628h1v2h-1zM278 615h1v2h-1zM108 842h1v1h-1zM1025 247h1v2h-1zM461 690h1v2h-1zM97 832h1v1h-1zM317 682h1v2h-1zM611 626h1v1h-1zM371 663h1v1h-1zM817 502h1v1h-1zM973 349h1v2h-1zM612 627h1v1h-1zM318 684h1v1h-1zM761 578h1v2h-1zM1052 242h1v2h-1zM1029 240h1v2h-1zM550 661h1v1h-1zM562 634h1v2h-1zM723 588h1v2h-1zM1021 254h1v2h-1zM182 750h1v1h-1zM746 563h1v1h-1zM1013 268h1v2h-1zM922 398h1v1h-1zM130 843h1v1h-1zM107 841h1v1h-1zM891 409h1v2h-1zM706 621h1v1h-1zM739 569h1v1h-1zM402 636h1v1h-1zM730 577h1v2h-1zM546 667h1v2h-1zM675 651h1v1h-1zM753 569h1v2h-1zM676 652h1v1h-1zM820 497h1v2h-1zM465 697h1v1h-1zM754 571h1v1h-1zM1033 233h1v1h-1zM321 689h1v1h-1zM727 581h1v1h-1zM914 398h1v1h-1zM273 621h1v1h-1zM690 653h1v1h-1zM1048 236h1v1h-1zM694 650h1v1h-1zM1051 241h1v1h-1zM764 583h1v2h-1zM167 742h1v2h-1zM667 642h1v1h-1zM299 622h1v3h-1zM197 765h1v1h-1zM668 643h1v1h-1zM328 696h1v1h-1zM565 630h1v1h-1zM787 561h1v3h-1zM1000 297h1v2h-1zM96 830h1v2h-1zM717 601h1v2h-1zM791 549h1v3h-1zM177 746h1v1h-1zM464 696h1v1h-1zM141 827h1v3h-1zM1028 242h1v2h-1zM906 403h1v1h-1zM178 747h1v1h-1zM189 756h1v1h-1zM397 642h1v1h-1zM268 630h1v2h-1zM890 412h1v2h-1zM540 680h1v2h-1zM1062 250h1v1h-1zM976 345h1v1h-1zM767 589h1v1h-1zM257 667h1v1h-1zM479 697h1v2h-1zM196 764h1v1h-1zM760 577h1v1h-1zM768 590h1v1h-1zM1024 249h1v2h-1zM252 673h1v1h-1zM972 351h1v2h-1zM95 829h1v1h-1zM510 699h1v1h-1zM460 688h1v2h-1zM1012 270h1v2h-1zM599 627h1v1h-1zM347 658h1v2h-1zM1058 247h1v1h-1zM113 846h1v1h-1zM782 576h1v2h-1zM210 769h1v1h-1zM291 614h1v1h-1zM763 582h1v1h-1zM1020 256h1v1h-1zM157 780h1v2h-1zM929 394h1v1h-1zM211 770h1v1h-1zM292 615h1v1h-1zM999 299h1v2h-1zM826 484h1v2h-1zM471 702h1v1h-1zM255 669h1v1h-1zM140 830h1v2h-1zM729 579h1v1h-1zM298 620h1v2h-1zM894 405h1v1h-1zM188 755h1v1h-1zM752 568h1v1h-1zM343 665h1v1h-1zM459 686h1v2h-1zM478 699h1v2h-1zM814 506h1v1h-1zM823 492h1v2h-1zM136 838h1v1h-1zM678 654h1v1h-1zM302 631h1v2h-1zM745 564h1v1h-1zM620 639h1v2h-1zM681 656h1v1h-1zM613 628h1v1h-1zM621 641h1v1h-1zM1053 244h1v1h-1zM708 618h1v1h-1zM614 629h1v1h-1zM697 645h1v1h-1zM810 512h1v2h-1zM732 575h1v1h-1zM670 645h1v1h-1zM1057 246h1v1h-1zM275 619h1v1h-1zM978 343h1v1h-1zM98 833h1v1h-1zM372 664h1v1h-1zM677 653h1v1h-1zM207 767h1v1h-1zM191 759h1v1h-1zM466 698h1v1h-1zM755 572h1v1h-1zM139 833h1v1h-1zM669 644h1v1h-1zM535 690h1v1h-1zM229 754h1v1h-1zM743 566h1v1h-1zM773 594h1v1h-1z" fill="#000"/>
<path d="M563 587h2v1h-2zM674 587h2v1h-2zM1028 182h2v1h-2zM1065 153h12v1h-12zM748 514h2v1h-2zM40 836h2v1h-2zM366 597h2v1h-2zM451 597h2v1h-2zM634 597h2v1h-2zM661 597h2v1h-2zM513 629h2v1h-2zM572 583h4v1h-4zM600 583h3v1h-3zM612 583h3v1h-3zM361 599h2v1h-2zM638 599h2v1h-2zM656 599h2v1h-2zM273 510h3v1h-3zM293 510h4v1h-4zM516 627h2v1h-2zM363 598h3v1h-3zM636 598h2v1h-2zM658 598h4v1h-4zM697 566h2v1h-2zM403 574h3v1h-3zM275 509h3v1h-3zM289 509h4v1h-4zM368 596h3v1h-3zM376 596h2v1h-2zM632 596h2v1h-2zM77 794h3v1h-3zM446 593h2v1h-2zM157 714h2v1h-2zM799 446h2v1h-2zM400 576h2v1h-2zM409 576h5v1h-5zM426 576h2v1h-2zM924 333h2v1h-2zM863 404h2v1h-2zM1010 194h2v1h-2zM441 590h2v1h-2zM624 590h2v1h-2zM1034 178h2v1h-2zM565 586h2v1h-2zM584 586h11v1h-11zM351 601h5v1h-5zM641 601h2v1h-2zM650 601h3v1h-3zM894 368h2v1h-2zM501 635h4v1h-4zM1018 188h2v1h-2zM841 410h2v1h-2zM348 600h3v1h-3zM356 600h5v1h-5zM653 600h3v1h-3zM270 512h2v1h-2zM390 585h2v1h-2zM567 585h2v1h-2zM580 585h4v1h-4zM595 585h2v1h-2zM618 585h2v1h-2zM1035 177h6v1h-6zM299 513h2v1h-2zM750 513h3v1h-3zM643 602h7v1h-7zM855 408h3v1h-3zM371 595h5v1h-5zM630 595h2v1h-2zM664 595h2v1h-2zM428 577h2v1h-2zM478 636h2v1h-2zM498 636h3v1h-3zM520 625h13v1h-13zM302 515h2v1h-2zM746 515h2v1h-2zM170 703h2v1h-2zM843 409h12v1h-12zM1029 181h2v1h-2zM1063 154h2v1h-2zM1077 154h5v1h-5zM484 639h2v1h-2zM488 639h3v1h-3zM603 582h9v1h-9zM508 632h2v1h-2zM518 626h2v1h-2zM406 575h3v1h-3zM414 575h12v1h-12zM796 448h2v1h-2zM870 397h2v1h-2zM278 508h2v1h-2zM285 508h4v1h-4zM482 638h2v1h-2zM491 638h4v1h-4zM891 370h2v1h-2zM239 584h2v1h-2zM569 584h3v1h-3zM576 584h4v1h-4zM597 584h3v1h-3zM615 584h3v1h-3zM155 715h2v1h-2zM397 578h2v1h-2zM684 578h2v1h-2zM837 412h2v1h-2zM67 800h2v1h-2zM381 592h2v1h-2zM444 592h2v1h-2zM802 444h2v1h-2zM386 588h2v1h-2zM673 588h2v1h-2zM829 416h2v1h-2zM623 589h2v1h-2zM83 792h3v1h-3zM1026 183h2v1h-2zM73 795h4v1h-4zM831 415h2v1h-2zM666 594h2v1h-2zM793 450h2v1h-2zM110 766h2v1h-2zM1032 179h2v1h-2zM1009 195h2v1h-2zM1003 201h2v1h-2zM939 315h2v1h-2zM50 821h2v1h-2zM280 507h5v1h-5zM1045 172h2v1h-2zM694 568h2v1h-2zM480 637h2v1h-2zM495 637h3v1h-3zM181 691h2v1h-2zM778 469h2v1h-2zM761 501h2v1h-2zM858 407h3v1h-3zM949 300h2v1h-2zM839 411h2v1h-2zM932 323h2v1h-2zM699 565h2v1h-2zM137 739h2v1h-2zM1015 190h2v1h-2zM261 522h2v1h-2zM486 640h2v1h-2zM80 793h3v1h-3zM971 258h2v1h-2zM72 796h2v1h-2zM186 687h2v1h-2zM123 751h2v1h-2zM134 741h2v1h-2zM1021 186h3v1h-3zM860 406h2v1h-2zM999 204h2v1h-2zM194 679h2v1h-2zM833 414h2v1h-2zM505 634h2v1h-2zM165 707h2v1h-2zM1023 185h2v1h-2zM835 413h2v1h-2zM511 630h2v1h-2zM865 403h2v1h-2zM806 441h2v1h-2zM791 451h2v1h-2zM31 848h2v1h-2zM88 789h2v1h-2zM895 367h2v1h-2zM908 354h2v1h-2zM164 708h2v1h-2zM760 502h1v2h-1zM242 574h1v3h-1zM961 280h1v2h-1zM185 688h1v1h-1zM784 459h1v1h-1zM464 616h1v2h-1zM726 536h1v1h-1zM53 816h1v2h-1zM973 254h1v2h-1zM258 529h1v3h-1zM663 596h1v1h-1zM56 812h1v1h-1zM1048 169h1v1h-1zM340 588h1v2h-1zM776 473h1v2h-1zM131 744h1v1h-1zM330 562h1v2h-1zM862 405h1v1h-1zM213 651h1v2h-1zM333 568h1v3h-1zM178 694h1v1h-1zM468 622h1v2h-1zM225 626h1v3h-1zM237 588h1v4h-1zM548 604h1v2h-1zM820 426h1v2h-1zM721 542h1v1h-1zM921 338h1v1h-1zM693 569h1v1h-1zM866 402h1v1h-1zM241 577h1v4h-1zM878 384h1v2h-1zM780 466h1v2h-1zM969 262h1v3h-1zM690 572h1v1h-1zM52 818h1v2h-1zM173 700h1v1h-1zM142 731h1v2h-1zM981 236h1v3h-1zM873 392h1v2h-1zM957 287h1v2h-1zM99 778h1v2h-1zM913 348h1v1h-1zM209 659h1v2h-1zM224 629h1v2h-1zM236 592h1v5h-1zM233 606h1v3h-1zM435 583h1v2h-1zM311 526h1v2h-1zM262 521h1v1h-1zM709 554h1v1h-1zM944 308h1v1h-1zM94 784h1v1h-1zM968 265h1v2h-1zM238 586h1v2h-1zM138 738h1v1h-1zM823 423h1v1h-1zM980 239h1v2h-1zM678 584h1v1h-1zM733 529h1v1h-1zM869 398h1v2h-1zM992 212h1v2h-1zM1055 162h1v1h-1zM150 721h1v1h-1zM541 615h1v1h-1zM153 717h1v1h-1zM471 627h1v1h-1zM544 611h1v1h-1zM208 661h1v2h-1zM297 511h1v1h-1zM936 318h1v2h-1zM254 539h1v2h-1zM318 542h1v2h-1zM87 790h1v1h-1zM795 449h1v1h-1zM924 334h1v1h-1zM232 609h1v3h-1zM329 560h1v2h-1zM472 628h1v1h-1zM43 832h1v1h-1zM393 582h1v1h-1zM985 227h1v2h-1zM905 357h1v1h-1zM322 549h1v1h-1zM145 727h1v1h-1zM536 621h1v1h-1zM200 672h1v1h-1zM122 752h1v1h-1zM767 490h1v2h-1zM988 220h1v3h-1zM701 562h1v2h-1zM28 852h1v1h-1zM965 271h1v3h-1zM1043 174h1v1h-1zM253 541h1v3h-1zM977 246h1v2h-1zM900 363h1v1h-1zM106 771h1v1h-1zM126 749h1v1h-1zM265 517h1v2h-1zM889 372h1v1h-1zM947 303h1v2h-1zM783 460h1v2h-1zM745 516h1v1h-1zM1004 200h1v1h-1zM893 369h1v1h-1zM716 547h1v1h-1zM559 591h1v1h-1zM23 858h1v1h-1zM339 586h1v2h-1zM321 547h1v2h-1zM343 594h1v1h-1zM740 522h1v1h-1zM168 705h1v1h-1zM1062 155h1v1h-1zM332 566h1v2h-1zM192 681h1v1h-1zM36 842h1v1h-1zM261 523h1v2h-1zM91 787h1v1h-1zM956 289h1v2h-1zM779 468h1v1h-1zM114 761h1v1h-1zM317 539h1v3h-1zM325 553h1v2h-1zM713 550h1v1h-1zM161 711h1v1h-1zM228 620h1v2h-1zM109 768h1v1h-1zM129 746h1v1h-1zM669 592h1v1h-1zM335 575h1v4h-1zM704 559h1v1h-1zM759 504h1v1h-1zM827 419h1v1h-1zM731 531h1v1h-1zM539 617h1v1h-1zM960 282h1v2h-1zM272 511h1v1h-1zM940 314h1v1h-1zM434 582h1v1h-1zM551 600h1v1h-1zM245 564h1v3h-1zM728 534h1v1h-1zM972 256h1v2h-1zM1050 167h1v1h-1zM775 475h1v2h-1zM384 590h1v1h-1zM876 387h1v2h-1zM249 552h1v3h-1zM342 592h1v2h-1zM212 653h1v2h-1zM149 722h1v2h-1zM756 507h1v1h-1zM204 668h1v1h-1zM388 587h1v1h-1zM935 320h1v1h-1zM240 581h1v3h-1zM252 544h1v3h-1zM39 838h1v1h-1zM66 801h1v1h-1zM547 606h1v2h-1zM904 358h1v2h-1zM244 567h1v3h-1zM256 534h1v2h-1zM141 733h1v1h-1zM774 477h1v2h-1zM328 558h1v2h-1zM199 673h1v2h-1zM995 208h1v2h-1zM872 394h1v1h-1zM927 330h1v1h-1zM70 798h1v1h-1zM743 518h1v1h-1zM98 780h1v1h-1zM331 564h1v2h-1zM248 555h1v3h-1zM101 776h1v1h-1zM884 377h1v1h-1zM474 631h1v1h-1zM223 631h1v2h-1zM720 543h1v1h-1zM324 552h1v1h-1zM943 309h1v2h-1zM554 596h1v2h-1zM814 434h1v1h-1zM967 267h1v2h-1zM243 570h1v4h-1zM979 241h1v3h-1zM770 485h1v1h-1zM912 349h1v1h-1zM991 214h1v2h-1zM187 686h1v1h-1zM207 663h1v2h-1zM222 633h1v2h-1zM231 612h1v3h-1zM133 742h1v1h-1zM708 555h1v1h-1zM786 456h1v1h-1zM55 813h1v1h-1zM260 525h1v2h-1zM984 229h1v2h-1zM180 692h1v1h-1zM395 580h1v1h-1zM235 597h1v5h-1zM907 355h1v1h-1zM1031 180h1v1h-1zM822 424h1v1h-1zM966 269h1v2h-1zM227 622h1v2h-1zM766 492h1v2h-1zM978 244h1v2h-1zM42 833h1v2h-1zM117 757h1v1h-1zM30 850h1v1h-1zM692 570h1v1h-1zM35 843h1v1h-1zM298 512h1v1h-1zM346 597h1v2h-1zM338 584h1v2h-1zM175 698h1v1h-1zM218 641h1v2h-1zM327 556h1v2h-1zM264 519h1v1h-1zM782 462h1v2h-1zM51 820h1v1h-1zM817 430h1v1h-1zM971 259h1v1h-1zM473 629h1v2h-1zM918 342h1v1h-1zM696 567h1v1h-1zM915 346h1v1h-1zM983 231h1v3h-1zM34 844h1v2h-1zM144 728h1v1h-1zM49 823h1v2h-1zM211 655h1v2h-1zM251 547h1v3h-1zM58 810h1v1h-1zM436 585h1v1h-1zM159 713h1v1h-1zM61 806h1v1h-1zM334 571h1v4h-1zM899 364h1v1h-1zM255 536h1v3h-1zM680 582h1v1h-1zM437 586h1v1h-1zM735 527h1v1h-1zM93 785h1v1h-1zM955 291h1v2h-1zM1057 160h1v1h-1zM778 470h1v1h-1zM805 442h1v1h-1zM140 734h1v2h-1zM715 548h1v1h-1zM558 592h1v1h-1zM868 400h1v1h-1zM871 395h1v2h-1zM399 577h1v1h-1zM152 718h1v1h-1zM809 439h1v1h-1zM829 417h1v1h-1zM538 618h1v2h-1zM341 590h1v2h-1zM550 601h1v2h-1zM723 539h1v1h-1zM875 389h1v1h-1zM1013 192h1v1h-1zM323 550h1v2h-1zM345 596h1v1h-1zM902 361h1v1h-1zM108 769h1v1h-1zM267 515h1v1h-1zM700 564h1v1h-1zM1025 184h1v1h-1zM128 747h1v1h-1zM230 615h1v2h-1zM703 560h1v1h-1zM316 537h1v2h-1zM758 505h1v1h-1zM206 665h1v2h-1zM96 782h1v1h-1zM1006 198h1v1h-1zM379 594h1v1h-1zM234 602h1v4h-1zM946 305h1v1h-1zM949 301h1v1h-1zM718 545h1v1h-1zM25 856h1v1h-1zM1049 168h1v1h-1zM247 558h1v3h-1zM383 591h1v1h-1zM986 225h1v2h-1zM22 859h1v1h-1zM753 511h1v1h-1zM742 519h1v2h-1zM313 530h1v3h-1zM765 494h1v2h-1zM217 643h1v2h-1zM886 375h1v1h-1zM229 617h1v3h-1zM116 758h1v2h-1zM163 709h1v1h-1zM344 595h1v1h-1zM994 210h1v1h-1zM553 598h1v1h-1zM671 590h1v1h-1zM706 557h1v1h-1zM790 452h1v1h-1zM33 846h1v1h-1zM337 581h1v3h-1zM246 561h1v3h-1zM198 675h1v1h-1zM926 331h1v1h-1zM111 765h1v1h-1zM45 829h1v1h-1zM883 378h1v1h-1zM250 550h1v2h-1zM189 684h1v1h-1zM1017 189h1v1h-1zM730 532h1v1h-1zM455 601h1v2h-1zM1052 165h1v1h-1zM326 555h1v1h-1zM769 486h1v2h-1zM990 216h1v2h-1zM668 593h1v1h-1zM315 535h1v2h-1zM139 736h1v2h-1zM824 422h1v1h-1zM533 624h1v1h-1zM934 321h1v1h-1zM937 317h1v1h-1zM119 755h1v1h-1zM177 695h1v2h-1zM773 479h1v2h-1zM65 802h1v1h-1zM997 206h1v1h-1zM546 608h1v1h-1zM816 431h1v2h-1zM897 366h1v1h-1zM970 260h1v2h-1zM917 343h1v2h-1zM143 729h1v2h-1zM167 706h1v1h-1zM929 327h1v1h-1zM874 390h1v2h-1zM722 540h1v2h-1zM305 517h1v2h-1zM1001 203h1v1h-1zM69 799h1v1h-1zM48 825h1v1h-1zM556 594h1v1h-1zM781 464h1v2h-1zM626 591h1v1h-1zM60 807h1v2h-1zM945 306h1v2h-1zM682 580h1v1h-1zM914 347h1v1h-1zM737 525h1v1h-1zM1059 158h1v1h-1zM443 591h1v1h-1zM764 496h1v2h-1zM454 600h1v1h-1zM475 632h1v1h-1zM221 635h1v2h-1zM686 577h1v1h-1zM785 457h1v2h-1zM788 454h1v1h-1zM710 553h1v1h-1zM259 527h1v2h-1zM57 811h1v1h-1zM476 633h1v1h-1zM777 471h1v2h-1zM314 533h1v2h-1zM909 353h1v1h-1zM394 581h1v1h-1zM226 624h1v2h-1zM103 774h1v1h-1zM510 631h1v1h-1zM725 537h1v1h-1zM1047 170h1v1h-1zM41 835h1v1h-1zM44 830h1v2h-1zM269 513h1v1h-1zM819 428h1v1h-1zM174 699h1v1h-1zM146 726h1v1h-1zM453 598h1v2h-1zM1008 196h1v1h-1zM201 671h1v1h-1zM964 274h1v2h-1zM989 218h1v2h-1zM976 248h1v2h-1zM63 804h1v1h-1zM385 589h1v1h-1zM457 604h1v2h-1zM465 618h1v1h-1zM172 701h1v1h-1zM532 626h1v1h-1zM216 645h1v2h-1zM196 677h1v1h-1zM811 437h1v1h-1zM95 783h1v1h-1zM336 579h1v2h-1zM881 380h1v1h-1zM620 586h1v1h-1zM193 680h1v1h-1zM772 481h1v2h-1zM717 546h1v1h-1zM431 579h1v1h-1zM154 716h1v1h-1zM804 443h1v1h-1zM621 587h1v1h-1zM640 600h1v1h-1zM928 328h1v2h-1zM952 296h1v1h-1zM110 767h1v1h-1zM47 826h1v2h-1zM808 440h1v1h-1zM438 587h1v1h-1zM732 530h1v1h-1zM1054 163h1v1h-1zM540 616h1v1h-1zM184 689h1v1h-1zM304 516h1v1h-1zM552 599h1v1h-1zM307 520h1v2h-1zM920 339h1v1h-1zM768 488h1v2h-1zM439 588h1v1h-1zM130 745h1v1h-1zM670 591h1v1h-1zM1012 193h1v1h-1zM705 558h1v1h-1zM901 362h1v1h-1zM220 637h1v2h-1zM266 516h1v1h-1zM347 599h1v1h-1zM1005 199h1v1h-1zM1051 166h1v1h-1zM560 590h1v1h-1zM24 857h1v1h-1zM689 573h1v1h-1zM1042 175h1v1h-1zM430 578h1v1h-1zM888 373h1v1h-1zM169 704h1v1h-1zM744 517h1v1h-1zM118 756h1v1h-1zM86 791h1v1h-1zM815 433h1v1h-1zM113 762h1v2h-1zM916 345h1v1h-1zM963 276h1v2h-1zM885 376h1v1h-1zM32 847h1v1h-1zM677 585h1v1h-1zM975 250h1v2h-1zM392 583h1v1h-1zM90 788h1v1h-1zM191 682h1v1h-1zM763 498h1v2h-1zM712 551h1v1h-1zM215 647h1v2h-1zM160 712h1v1h-1zM923 335h1v1h-1zM449 595h1v1h-1zM877 386h1v1h-1zM456 603h1v1h-1zM27 853h1v1h-1zM826 420h1v1h-1zM535 622h1v1h-1zM736 526h1v1h-1zM1058 159h1v1h-1zM389 586h1v1h-1zM628 593h1v1h-1zM959 284h1v1h-1zM121 753h1v1h-1zM948 302h1v1h-1zM257 532h1v2h-1zM125 750h1v1h-1zM752 512h1v1h-1zM755 508h1v1h-1zM996 207h1v1h-1zM203 669h1v1h-1zM931 324h1v2h-1zM71 797h1v1h-1zM102 775h1v1h-1zM478 635h1v1h-1zM724 538h1v1h-1zM448 594h1v1h-1zM1046 171h1v1h-1zM543 612h1v1h-1zM306 519h1v1h-1zM555 595h1v1h-1zM739 523h1v1h-1zM97 781h1v1h-1zM1061 156h1v1h-1zM880 381h1v2h-1zM210 657h1v2h-1zM771 483h1v2h-1zM310 525h1v1h-1zM719 544h1v1h-1zM798 447h1v1h-1zM463 614h1v2h-1zM188 685h1v1h-1zM59 809h1v1h-1zM466 619h1v2h-1zM942 311h1v1h-1zM987 223h1v2h-1zM911 350h1v2h-1zM951 297h1v2h-1zM627 592h1v1h-1zM954 293h1v2h-1zM787 455h1v1h-1zM459 607h1v2h-1zM467 621h1v1h-1zM396 579h1v1h-1zM105 772h1v1h-1zM148 724h1v1h-1zM477 634h1v1h-1zM151 719h1v2h-1zM54 814h1v2h-1zM727 535h1v1h-1zM460 609h1v1h-1zM132 743h1v1h-1zM31 849h1v1h-1zM176 697h1v1h-1zM179 693h1v1h-1zM219 639h1v2h-1zM903 360h1v1h-1zM268 514h1v1h-1zM818 429h1v1h-1zM821 425h1v1h-1zM919 340h1v2h-1zM38 839h1v1h-1zM562 588h1v1h-1zM688 574h1v2h-1zM50 822h1v1h-1zM691 571h1v1h-1zM26 854h1v2h-1zM982 234h1v2h-1zM62 805h1v1h-1zM813 435h1v1h-1zM440 589h1v1h-1zM681 581h1v1h-1zM195 678h1v1h-1zM462 612h1v2h-1zM470 625h1v2h-1zM962 278h1v2h-1zM707 556h1v1h-1zM810 438h1v1h-1zM679 583h1v1h-1zM974 252h1v2h-1zM734 528h1v1h-1zM1056 161h1v1h-1zM542 613h1v2h-1zM136 740h1v1h-1zM239 585h1v1h-1zM214 649h1v2h-1zM922 336h1v2h-1zM867 401h1v1h-1zM183 690h1v1h-1zM672 589h1v1h-1zM1014 191h1v1h-1zM622 588h1v1h-1zM828 418h1v1h-1zM433 581h1v1h-1zM537 620h1v1h-1zM309 523h1v2h-1zM402 575h1v1h-1zM762 500h1v1h-1zM958 285h1v2h-1zM391 584h1v1h-1zM312 528h1v2h-1zM100 777h1v1h-1zM549 603h1v1h-1zM380 593h1v1h-1zM1007 197h1v1h-1zM1053 164h1v1h-1zM953 295h1v1h-1zM515 628h1v1h-1zM1044 173h1v1h-1zM507 633h1v1h-1zM263 520h1v1h-1zM127 748h1v1h-1zM890 371h1v1h-1zM754 509h1v2h-1zM757 506h1v1h-1zM1041 176h1v1h-1zM171 702h1v1h-1zM458 606h1v1h-1zM378 595h1v1h-1zM887 374h1v1h-1zM461 610h1v2h-1zM469 624h1v1h-1zM120 754h1v1h-1zM545 609h1v2h-1zM319 544h1v2h-1zM557 593h1v1h-1zM432 580h1v1h-1zM741 521h1v1h-1zM320 546h1v1h-1zM37 840h1v2h-1zM930 326h1v1h-1zM92 786h1v1h-1zM906 356h1v1h-1zM112 764h1v1h-1zM46 828h1v1h-1zM115 760h1v1h-1zM676 586h1v1h-1zM190 683h1v1h-1zM941 312h1v2h-1zM711 552h1v1h-1zM29 851h1v1h-1zM738 524h1v1h-1zM107 770h1v1h-1zM308 522h1v1h-1zM879 383h1v1h-1zM825 421h1v1h-1zM729 533h1v1h-1zM534 623h1v1h-1zM938 316h1v1h-1zM1020 187h1v1h-1zM950 299h1v1h-1zM998 205h1v1h-1zM205 667h1v1h-1zM898 365h1v1h-1zM104 773h1v1h-1zM147 725h1v1h-1zM40 837h1v1h-1zM202 670h1v1h-1zM933 322h1v1h-1zM1002 202h1v1h-1zM629 594h1v1h-1zM714 549h1v1h-1zM162 710h1v1h-1zM64 803h1v1h-1zM993 211h1v1h-1zM301 514h1v1h-1zM683 579h1v1h-1zM197 676h1v1h-1zM925 332h1v1h-1zM1060 157h1v1h-1zM882 379h1v1h-1zM561 589h1v1h-1zM687 576h1v1h-1zM789 453h1v1h-1zM812 436h1v1h-1zM910 352h1v1h-1zM801 445h1v1h-1zM702 561h1v1h-1zM450 596h1v1h-1z" fill="#32cd32"/>
<path d="M788 344h2v1h-2zM815 326h2v1h-2zM600 522h4v1h-4zM611 522h33v1h-33zM646 522h2v1h-2zM656 522h3v1h-3zM489 506h2v1h-2zM531 506h4v1h-4zM474 501h4v1h-4zM566 501h2v1h-2zM491 507h4v1h-4zM516 507h15v1h-15zM482 503h2v1h-2zM543 503h2v1h-2zM569 503h2v1h-2zM342 384h2v1h-2zM369 412h8v1h-8zM411 412h11v1h-11zM333 380h2v1h-2zM223 498h2v1h-2zM552 498h11v1h-11zM698 498h4v1h-4zM357 399h2v1h-2zM869 287h2v1h-2zM1064 11h8v1h-8zM155 615h6v1h-6zM163 615h7v1h-7zM837 312h3v1h-3zM590 519h3v1h-3zM899 263h3v1h-3zM376 413h13v1h-13zM405 413h6v1h-6zM422 413h4v1h-4zM719 487h2v1h-2zM340 383h2v1h-2zM1011 73h3v1h-3zM1072 12h3v1h-3zM822 322h2v1h-2zM389 414h17v1h-17zM426 414h4v1h-4zM72 732h2v1h-2zM882 273h2v1h-2zM1078 15h2v1h-2zM661 524h7v1h-7zM1000 76h4v1h-4zM587 518h3v1h-3zM596 521h4v1h-4zM648 521h8v1h-8zM673 521h2v1h-2zM469 500h5v1h-5zM548 500h2v1h-2zM345 386h2v1h-2zM478 502h4v1h-4zM545 502h2v1h-2zM692 502h2v1h-2zM847 306h2v1h-2zM321 376h2v1h-2zM495 508h3v1h-3zM507 508h9v1h-9zM305 372h4v1h-4zM909 258h2v1h-2zM149 614h6v1h-6zM486 505h3v1h-3zM535 505h4v1h-4zM582 514h2v1h-2zM832 315h2v1h-2zM856 300h2v1h-2zM804 334h2v1h-2zM268 358h3v1h-3zM330 379h3v1h-3zM309 373h4v1h-4zM74 731h2v1h-2zM712 493h2v1h-2zM754 431h2v1h-2zM266 359h2v1h-2zM271 359h2v1h-2zM682 511h2v1h-2zM668 525h2v1h-2zM264 360h2v1h-2zM273 360h3v1h-3zM842 309h2v1h-2zM196 579h2v1h-2zM29 775h2v1h-2zM604 523h7v1h-7zM644 523h2v1h-2zM659 523h2v1h-2zM702 497h4v1h-4zM814 327h2v1h-2zM964 164h2v1h-2zM1023 69h2v1h-2zM325 378h5v1h-5zM1008 74h3v1h-3zM1031 63h2v1h-2zM706 496h2v1h-2zM337 382h3v1h-3zM820 323h2v1h-2zM286 368h2v1h-2zM498 509h9v1h-9zM576 509h2v1h-2zM290 370h2v1h-2zM293 370h8v1h-8zM773 370h2v1h-2zM997 77h3v1h-3zM907 259h2v1h-2zM829 317h2v1h-2zM890 269h2v1h-2zM845 307h3v1h-3zM790 343h2v1h-2zM313 374h5v1h-5zM238 441h2v1h-2zM323 377h3v1h-3zM301 371h4v1h-4zM145 613h4v1h-4zM839 311h2v1h-2zM811 329h2v1h-2zM1018 71h4v1h-4zM335 381h2v1h-2zM82 726h2v1h-2zM276 361h2v1h-2zM65 736h2v1h-2zM898 264h2v1h-2zM710 494h2v1h-2zM798 339h2v1h-2zM794 341h2v1h-2zM67 735h2v1h-2zM212 533h2v1h-2zM278 362h2v1h-2zM76 730h2v1h-2zM288 369h2v1h-2zM58 739h3v1h-3zM852 303h2v1h-2zM1040 58h2v1h-2zM1037 60h2v1h-2zM484 504h2v1h-2zM539 504h5v1h-5zM84 725h2v1h-2zM550 499h2v1h-2zM563 499h2v1h-2zM696 499h2v1h-2zM751 442h2v1h-2zM318 375h3v1h-3zM344 385h2v1h-2zM888 270h2v1h-2zM242 425h2v1h-2zM1076 14h2v1h-2zM1033 62h2v1h-2zM1004 75h4v1h-4zM994 78h3v1h-3zM63 737h2v1h-2zM796 340h2v1h-2zM593 520h3v1h-3zM1028 65h2v1h-2zM708 495h2v1h-2zM183 598h2v1h-2zM884 272h2v1h-2zM235 457h2v1h-2zM784 346h2v1h-2zM825 320h2v1h-2zM786 345h2v1h-2zM859 297h2v1h-2zM866 290h2v1h-2zM792 342h2v1h-2zM902 262h2v1h-2zM886 271h3v1h-3zM70 733h2v1h-2zM904 261h2v1h-2zM350 390h2v1h-2zM97 703h2v1h-2zM1035 61h2v1h-2zM161 616h2v1h-2zM808 331h2v1h-2zM61 738h2v1h-2zM79 728h2v1h-2zM817 325h2v1h-2zM282 365h2v1h-2zM1014 72h4v1h-4zM911 257h3v1h-3zM895 266h2v1h-2zM850 304h2v1h-2zM834 314h2v1h-2zM892 268h2v1h-2zM751 443h1v2h-1zM763 407h1v3h-1zM731 475h1v2h-1zM98 701h1v2h-1zM200 570h1v2h-1zM238 442h1v5h-1zM1044 50h1v2h-1zM571 504h1v1h-1zM255 382h1v3h-1zM217 518h1v3h-1zM437 424h1v2h-1zM980 112h1v4h-1zM965 161h1v3h-1zM877 278h1v1h-1zM923 245h1v1h-1zM216 521h1v3h-1zM347 387h1v1h-1zM368 410h1v1h-1zM26 780h1v2h-1zM440 429h1v2h-1zM230 476h1v3h-1zM126 637h1v2h-1zM768 389h1v3h-1zM15 797h1v2h-1zM857 299h1v1h-1zM451 452h1v3h-1zM969 149h1v3h-1zM118 652h1v2h-1zM7 811h1v2h-1zM54 744h1v1h-1zM738 464h1v2h-1zM985 93h1v3h-1zM1048 42h1v2h-1zM259 366h1v4h-1zM233 465h1v4h-1zM250 399h1v4h-1zM936 229h1v2h-1zM247 410h1v3h-1zM750 445h1v3h-1zM762 410h1v3h-1zM353 393h1v1h-1zM1063 13h1v2h-1zM972 139h1v4h-1zM97 704h1v2h-1zM51 747h1v1h-1zM237 447h1v5h-1zM86 723h1v1h-1zM89 719h1v2h-1zM581 513h1v1h-1zM354 394h1v2h-1zM964 165h1v2h-1zM110 670h1v2h-1zM22 786h1v2h-1zM457 474h1v5h-1zM122 644h1v2h-1zM229 479h1v4h-1zM951 204h1v2h-1zM767 392h1v4h-1zM742 457h1v2h-1zM968 152h1v3h-1zM204 560h1v3h-1zM460 486h1v4h-1zM943 218h1v1h-1zM242 426h1v3h-1zM3 819h1v2h-1zM955 192h1v3h-1zM130 631h1v1h-1zM443 434h1v2h-1zM258 370h1v4h-1zM981 109h1v3h-1zM42 756h1v1h-1zM246 413h1v3h-1zM208 547h1v4h-1zM93 712h1v2h-1zM547 501h1v1h-1zM464 494h1v2h-1zM435 421h1v2h-1zM932 235h1v1h-1zM39 759h1v1h-1zM873 284h1v1h-1zM187 593h1v2h-1zM221 505h1v3h-1zM759 419h1v3h-1zM963 167h1v2h-1zM113 662h1v2h-1zM364 406h1v1h-1zM34 766h1v1h-1zM989 85h1v2h-1zM775 364h1v3h-1zM939 224h1v2h-1zM212 534h1v3h-1zM92 714h1v3h-1zM241 429h1v4h-1zM203 563h1v3h-1zM802 336h1v1h-1zM2 821h1v2h-1zM687 507h1v1h-1zM1043 52h1v2h-1zM450 449h1v3h-1zM138 620h1v2h-1zM254 385h1v4h-1zM1058 23h1v2h-1zM780 352h1v2h-1zM723 484h1v1h-1zM18 792h1v2h-1zM680 513h1v1h-1zM220 508h1v3h-1zM993 79h1v1h-1zM881 274h1v1h-1zM758 422h1v4h-1zM236 452h1v5h-1zM915 254h1v1h-1zM771 377h1v4h-1zM984 96h1v5h-1zM176 606h1v2h-1zM684 510h1v1h-1zM1030 64h1v1h-1zM179 603h1v1h-1zM133 627h1v1h-1zM25 782h1v2h-1zM446 440h1v1h-1zM100 696h1v3h-1zM199 572h1v3h-1zM960 174h1v3h-1zM211 537h1v3h-1zM1042 54h1v3h-1zM675 519h1v1h-1zM876 279h1v2h-1zM215 524h1v3h-1zM976 126h1v4h-1zM439 427h1v2h-1zM253 389h1v4h-1zM49 749h1v1h-1zM1054 30h1v2h-1zM442 433h1v1h-1zM757 426h1v1h-1zM967 155h1v3h-1zM935 231h1v1h-1zM1047 44h1v2h-1zM232 469h1v4h-1zM9 807h1v2h-1zM746 453h1v1h-1zM770 381h1v4h-1zM109 672h1v3h-1zM971 143h1v3h-1zM198 575h1v2h-1zM672 522h1v1h-1zM245 416h1v3h-1zM141 617h1v1h-1zM207 551h1v3h-1zM959 177h1v3h-1zM806 333h1v1h-1zM975 130h1v3h-1zM864 292h1v1h-1zM950 206h1v2h-1zM927 241h1v1h-1zM112 664h1v3h-1zM930 237h1v1h-1zM810 330h1v1h-1zM741 459h1v2h-1zM942 219h1v2h-1zM861 295h1v1h-1zM730 477h1v1h-1zM966 158h1v3h-1zM182 599h1v1h-1zM356 397h1v1h-1zM1 823h1v3h-1zM58 740h1v1h-1zM754 432h1v3h-1zM766 396h1v4h-1zM979 116h1v3h-1zM108 675h1v3h-1zM117 654h1v2h-1zM206 554h1v3h-1zM691 503h1v1h-1zM983 101h1v4h-1zM219 511h1v4h-1zM445 438h1v2h-1zM248 406h1v4h-1zM946 213h1v2h-1zM714 492h1v1h-1zM363 405h1v1h-1zM33 767h1v2h-1zM6 813h1v2h-1zM262 362h1v1h-1zM949 208h1v2h-1zM737 466h1v2h-1zM56 742h1v1h-1zM466 497h1v1h-1zM438 426h1v1h-1zM938 226h1v2h-1zM749 448h1v2h-1zM1062 15h1v2h-1zM919 250h1v1h-1zM467 498h1v1h-1zM46 752h1v1h-1zM753 435h1v3h-1zM765 400h1v3h-1zM459 482h1v4h-1zM456 469h1v5h-1zM348 388h1v1h-1zM171 612h1v1h-1zM573 506h1v1h-1zM992 80h1v2h-1zM670 524h1v1h-1zM129 632h1v2h-1zM733 473h1v1h-1zM132 628h1v2h-1zM1053 32h1v2h-1zM44 754h1v1h-1zM99 699h1v2h-1zM958 180h1v4h-1zM355 396h1v1h-1zM249 403h1v3h-1zM962 169h1v3h-1zM974 133h1v3h-1zM449 446h1v3h-1zM127 635h1v2h-1zM988 87h1v2h-1zM695 500h1v1h-1zM769 385h1v4h-1zM16 795h1v2h-1zM104 686h1v3h-1zM202 566h1v2h-1zM28 777h1v2h-1zM441 431h1v2h-1zM228 483h1v3h-1zM824 321h1v1h-1zM431 416h1v2h-1zM922 246h1v1h-1zM244 419h1v3h-1zM107 678h1v3h-1zM957 184h1v4h-1zM836 313h1v1h-1zM828 318h1v1h-1zM257 374h1v4h-1zM210 540h1v4h-1zM725 482h1v1h-1zM96 706h1v2h-1zM111 667h1v3h-1zM53 745h1v1h-1zM123 642h1v2h-1zM292 371h1v1h-1zM88 721h1v1h-1zM223 499h1v2h-1zM12 802h1v1h-1zM761 413h1v3h-1zM686 508h1v1h-1zM205 557h1v3h-1zM227 486h1v3h-1zM982 105h1v4h-1zM875 281h1v2h-1zM214 527h1v3h-1zM116 656h1v2h-1zM243 422h1v3h-1zM240 433h1v4h-1zM953 198h1v4h-1zM1025 68h1v1h-1zM256 378h1v4h-1zM218 515h1v3h-1zM1061 17h1v2h-1zM945 215h1v1h-1zM760 416h1v3h-1zM5 815h1v2h-1zM868 288h1v1h-1zM914 255h1v1h-1zM736 468h1v2h-1zM934 232h1v2h-1zM41 757h1v1h-1zM21 788h1v1h-1zM222 501h1v4h-1zM764 403h1v4h-1zM197 577h1v2h-1zM970 146h1v3h-1zM674 520h1v1h-1zM143 615h1v1h-1zM235 458h1v3h-1zM186 595h1v1h-1zM189 591h1v1h-1zM239 437h1v4h-1zM689 505h1v1h-1zM929 238h1v2h-1zM170 613h1v2h-1zM36 763h1v2h-1zM740 461h1v1h-1zM572 505h1v1h-1zM844 308h1v1h-1zM1057 25h1v1h-1zM941 221h1v2h-1zM91 717h1v1h-1zM978 119h1v4h-1zM103 689h1v3h-1zM801 337h1v1h-1zM181 600h1v2h-1zM234 461h1v4h-1zM193 584h1v2h-1zM961 172h1v2h-1zM973 136h1v3h-1zM782 349h1v2h-1zM455 465h1v4h-1zM32 769h1v2h-1zM716 490h1v1h-1zM854 302h1v1h-1zM677 517h1v1h-1zM990 83h1v2h-1zM135 624h1v1h-1zM178 604h1v1h-1zM906 260h1v1h-1zM24 784h1v1h-1zM752 438h1v4h-1zM956 188h1v4h-1zM1041 57h1v1h-1zM358 400h1v1h-1zM921 247h1v2h-1zM756 427h1v2h-1zM878 277h1v1h-1zM48 750h1v1h-1zM106 681h1v3h-1zM778 355h1v3h-1zM454 460h1v5h-1zM748 450h1v2h-1zM95 708h1v2h-1zM173 610h1v1h-1zM568 502h1v1h-1zM447 441h1v3h-1zM773 371h1v3h-1zM11 803h1v2h-1zM1052 34h1v2h-1zM213 530h1v3h-1zM365 407h1v1h-1zM863 293h1v1h-1zM184 597h1v1h-1zM366 408h1v1h-1zM252 393h1v3h-1zM196 580h1v1h-1zM732 474h1v1h-1zM772 374h1v3h-1zM209 544h1v3h-1zM924 244h1v1h-1zM948 210h1v2h-1zM578 510h1v1h-1zM201 568h1v2h-1zM894 267h1v1h-1zM1075 13h1v1h-1zM35 765h1v1h-1zM579 511h1v1h-1zM357 398h1v1h-1zM55 743h1v1h-1zM226 489h1v3h-1zM1056 26h1v2h-1zM192 586h1v2h-1zM102 692h1v2h-1zM461 490h1v2h-1zM1039 59h1v1h-1zM735 470h1v2h-1zM1060 19h1v2h-1zM31 771h1v2h-1zM916 253h1v1h-1zM225 492h1v3h-1zM20 789h1v2h-1zM43 755h1v1h-1zM468 499h1v1h-1zM952 202h1v2h-1zM777 358h1v3h-1zM743 456h1v1h-1zM874 283h1v1h-1zM944 216h1v2h-1zM755 429h1v2h-1zM977 123h1v3h-1zM458 479h1v3h-1zM783 348h1v1h-1zM803 335h1v1h-1zM27 779h1v1h-1zM1051 36h1v2h-1zM224 495h1v3h-1zM727 480h1v1h-1zM858 298h1v1h-1zM807 332h1v1h-1zM776 361h1v3h-1zM739 462h1v2h-1zM125 639h1v2h-1zM251 396h1v3h-1zM1064 12h1v1h-1zM928 240h1v1h-1zM14 799h1v1h-1zM105 684h1v2h-1zM81 727h1v1h-1zM1027 66h1v1h-1zM349 389h1v1h-1zM574 507h1v1h-1zM121 646h1v2h-1zM85 724h1v1h-1zM715 491h1v1h-1zM10 805h1v2h-1zM191 588h1v2h-1zM101 694h1v2h-1zM38 760h1v2h-1zM1046 46h1v2h-1zM688 506h1v1h-1zM360 402h1v1h-1zM1059 21h1v2h-1zM195 581h1v2h-1zM432 418h1v1h-1zM30 773h1v2h-1zM453 457h1v3h-1zM718 488h1v1h-1zM137 622h1v1h-1zM180 602h1v1h-1zM584 515h1v1h-1zM954 195h1v3h-1zM69 734h1v1h-1zM779 354h1v1h-1zM676 518h1v1h-1zM722 485h1v1h-1zM679 514h1v1h-1zM1055 28h1v2h-1zM285 367h1v1h-1zM585 516h1v1h-1zM50 748h1v1h-1zM175 608h1v1h-1zM947 212h1v1h-1zM774 367h1v3h-1zM872 285h1v1h-1zM359 401h1v1h-1zM865 291h1v1h-1zM931 236h1v1h-1zM734 472h1v1h-1zM140 618h1v1h-1zM120 648h1v2h-1zM880 275h1v1h-1zM926 242h1v1h-1zM281 364h1v1h-1zM987 89h1v2h-1zM1050 38h1v2h-1zM284 366h1v1h-1zM729 478h1v1h-1zM849 305h1v1h-1zM57 741h1v1h-1zM841 310h1v1h-1zM367 409h1v1h-1zM565 500h1v1h-1zM352 392h1v1h-1zM937 228h1v1h-1zM745 454h1v1h-1zM671 523h1v1h-1zM580 512h1v1h-1zM918 251h1v1h-1zM430 415h1v1h-1zM45 753h1v1h-1zM115 658h1v2h-1zM128 634h1v1h-1zM1045 48h1v2h-1zM813 328h1v1h-1zM17 794h1v1h-1zM1080 16h1v1h-1zM452 455h1v2h-1zM690 504h1v1h-1zM231 473h1v3h-1zM860 296h1v1h-1zM144 614h1v1h-1zM694 501h1v1h-1zM261 363h1v1h-1zM726 481h1v1h-1zM37 762h1v1h-1zM124 641h1v1h-1zM448 444h1v2h-1zM13 800h1v2h-1zM1022 70h1v1h-1zM194 583h1v1h-1zM678 515h1v2h-1zM991 82h1v1h-1zM724 483h1v1h-1zM462 492h1v1h-1zM52 746h1v1h-1zM280 363h1v1h-1zM1026 67h1v1h-1zM87 722h1v1h-1zM1049 40h1v2h-1zM131 630h1v1h-1zM717 489h1v1h-1zM463 493h1v1h-1zM4 817h1v2h-1zM444 436h1v2h-1zM190 590h1v1h-1zM94 710h1v2h-1zM575 508h1v1h-1zM867 289h1v1h-1zM933 234h1v1h-1zM40 758h1v1h-1zM351 391h1v1h-1zM29 776h1v1h-1zM119 650h1v2h-1zM871 286h1v1h-1zM185 596h1v1h-1zM90 718h1v1h-1zM800 338h1v1h-1zM855 301h1v1h-1zM136 623h1v1h-1zM139 619h1v1h-1zM433 419h1v1h-1zM721 486h1v1h-1zM134 625h1v2h-1zM879 276h1v1h-1zM362 404h1v1h-1zM434 420h1v1h-1zM586 517h1v1h-1zM260 364h1v2h-1zM913 256h1v1h-1zM174 609h1v1h-1zM177 605h1v1h-1zM23 785h1v1h-1zM47 751h1v1h-1zM114 660h1v2h-1zM369 411h1v1h-1zM172 611h1v1h-1zM142 616h1v1h-1zM744 455h1v1h-1zM827 319h1v1h-1zM681 512h1v1h-1zM819 324h1v1h-1zM361 403h1v1h-1zM8 809h1v2h-1zM986 91h1v2h-1zM940 223h1v1h-1zM862 294h1v1h-1zM685 509h1v1h-1zM831 316h1v1h-1zM925 243h1v1h-1zM465 496h1v1h-1zM728 479h1v1h-1zM781 351h1v1h-1zM920 249h1v1h-1zM747 452h1v1h-1zM188 592h1v1h-1zM78 729h1v1h-1zM897 265h1v1h-1zM917 252h1v1h-1zM784 347h1v1h-1zM19 791h1v1h-1zM436 423h1v1h-1zM263 361h1v1h-1z" fill="#20b2aa"/>
<path d="M387 698h2v1h-2zM580 698h5v1h-5zM798 698h2v1h-2zM392 695h4v1h-4zM597 695h6v1h-6zM622 695h6v1h-6zM432 716h2v1h-2zM699 659h34v1h-34zM515 704h25v1h-25zM551 704h16v1h-16zM788 704h2v1h-2zM575 699h5v1h-5zM796 699h2v1h-2zM476 707h2v1h-2zM508 707h2v1h-2zM777 707h2v1h-2zM481 709h2v1h-2zM495 709h8v1h-8zM641 688h14v1h-14zM810 688h2v1h-2zM674 660h25v1h-25zM733 660h2v1h-2zM439 719h3v1h-3zM747 667h2v1h-2zM400 693h6v1h-6zM609 693h9v1h-9zM630 693h3v1h-3zM637 690h2v1h-2zM948 515h7v1h-7zM1010 497h2v1h-2zM418 706h2v1h-2zM474 706h2v1h-2zM510 706h3v1h-3zM775 706h2v1h-2zM761 686h2v1h-2zM435 718h4v1h-4zM442 718h2v1h-2zM421 708h2v1h-2zM478 708h3v1h-3zM503 708h5v1h-5zM779 708h6v1h-6zM571 701h2v1h-2zM793 701h2v1h-2zM940 522h2v1h-2zM389 697h2v1h-2zM585 697h6v1h-6zM800 697h2v1h-2zM450 713h2v1h-2zM424 710h2v1h-2zM483 710h12v1h-12zM742 664h2v1h-2zM877 600h2v1h-2zM539 703h12v1h-12zM566 703h2v1h-2zM430 715h2v1h-2zM937 524h2v1h-2zM568 702h3v1h-3zM791 702h2v1h-2zM755 678h2v1h-2zM461 696h2v1h-2zM591 696h6v1h-6zM396 694h4v1h-4zM603 694h6v1h-6zM618 694h4v1h-4zM628 694h2v1h-2zM670 662h2v1h-2zM737 662h3v1h-3zM384 700h2v1h-2zM466 700h2v1h-2zM573 700h3v1h-3zM472 705h2v1h-2zM513 705h3v1h-3zM873 602h2v1h-2zM434 717h2v1h-2zM444 717h3v1h-3zM825 665h2v1h-2zM352 763h2v1h-2zM942 521h2v1h-2zM1065 430h2v1h-2zM975 536h2v1h-2zM1002 513h2v1h-2zM870 604h2v1h-2zM985 545h2v1h-2zM863 610h2v1h-2zM745 666h2v1h-2zM989 542h2v1h-2zM639 689h2v1h-2zM1052 440h2v1h-2zM635 691h2v1h-2zM668 663h2v1h-2zM740 663h2v1h-2zM1056 437h2v1h-2zM633 692h2v1h-2zM672 661h2v1h-2zM735 661h2v1h-2zM861 611h2v1h-2zM935 525h2v1h-2zM881 598h3v1h-3zM865 608h2v1h-2zM840 640h2v1h-2zM879 599h2v1h-2zM1062 432h2v1h-2zM875 601h2v1h-2zM894 583h2v1h-2zM987 544h1v1h-1zM323 802h1v1h-1zM447 716h1v1h-1zM1066 428h1v2h-1zM813 684h1v1h-1zM459 698h1v2h-1zM903 568h1v2h-1zM1000 518h1v2h-1zM895 582h1v1h-1zM298 829h1v2h-1zM785 707h1v1h-1zM367 718h1v2h-1zM911 554h1v2h-1zM287 848h1v2h-1zM1071 416h1v2h-1zM345 779h1v2h-1zM972 533h1v1h-1zM354 756h1v4h-1zM808 690h1v1h-1zM1003 511h1v2h-1zM923 537h1v2h-1zM311 814h1v1h-1zM887 592h1v1h-1zM455 706h1v1h-1zM1043 449h1v1h-1zM848 627h1v2h-1zM868 606h1v1h-1zM350 768h1v2h-1zM999 520h1v3h-1zM915 547h1v2h-1zM1027 468h1v2h-1zM306 820h1v1h-1zM872 603h1v1h-1zM286 850h1v3h-1zM375 709h1v1h-1zM353 760h1v3h-1zM333 792h1v1h-1zM816 680h1v1h-1zM357 746h1v4h-1zM1007 503h1v2h-1zM420 707h1v1h-1zM667 664h1v2h-1zM291 840h1v2h-1zM945 519h1v1h-1zM370 714h1v2h-1zM914 549h1v2h-1zM1078 402h1v2h-1zM1023 474h1v2h-1zM836 647h1v2h-1zM752 672h1v2h-1zM469 702h1v1h-1zM930 530h1v1h-1zM994 532h1v3h-1zM283 857h1v3h-1zM831 655h1v2h-1zM663 671h1v2h-1zM342 783h1v1h-1zM1030 464h1v1h-1zM910 556h1v2h-1zM1050 442h1v1h-1zM890 588h1v2h-1zM902 570h1v2h-1zM358 743h1v3h-1zM1011 496h1v1h-1zM1054 439h1v1h-1zM382 702h1v1h-1zM340 785h1v1h-1zM362 731h1v3h-1zM803 695h1v1h-1zM827 662h1v2h-1zM1002 514h1v1h-1zM294 836h1v1h-1zM795 700h1v1h-1zM1058 436h1v1h-1zM819 675h1v2h-1zM979 539h1v1h-1zM1026 470h1v2h-1zM1070 418h1v2h-1zM408 696h1v1h-1zM330 795h1v1h-1zM906 563h1v2h-1zM1015 488h1v2h-1zM1038 454h1v1h-1zM898 577h1v2h-1zM991 539h1v2h-1zM750 669h1v2h-1zM468 701h1v1h-1zM823 669h1v1h-1zM859 613h1v1h-1zM290 842h1v2h-1zM968 529h1v1h-1zM751 671h1v1h-1zM655 685h1v1h-1zM772 703h1v1h-1zM415 703h1v1h-1zM449 714h1v1h-1zM318 807h1v1h-1zM773 704h1v1h-1zM960 521h1v1h-1zM458 700h1v2h-1zM815 681h1v2h-1zM1061 433h1v1h-1zM851 623h1v1h-1zM854 619h1v1h-1zM1006 505h1v2h-1zM366 720h1v2h-1zM787 705h1v1h-1zM1077 404h1v2h-1zM1019 480h1v2h-1zM922 539h1v1h-1zM465 699h1v1h-1zM838 643h1v2h-1zM967 528h1v1h-1zM337 788h1v1h-1zM1045 447h1v1h-1zM349 770h1v2h-1zM361 734h1v3h-1zM917 545h1v1h-1zM754 675h1v2h-1zM365 722h1v3h-1zM285 853h1v2h-1zM765 693h1v2h-1zM377 707h1v1h-1zM301 825h1v1h-1zM356 750h1v3h-1zM834 650h1v2h-1zM974 535h1v1h-1zM1042 450h1v1h-1zM666 666h1v2h-1zM325 800h1v1h-1zM826 664h1v1h-1zM1001 515h1v3h-1zM348 772h1v3h-1zM293 837h1v2h-1zM360 737h1v3h-1zM1033 459h1v2h-1zM658 680h1v2h-1zM925 535h1v1h-1zM364 725h1v3h-1zM1072 414h1v2h-1zM1014 490h1v2h-1zM894 584h1v1h-1zM993 535h1v2h-1zM464 698h1v1h-1zM830 657h1v2h-1zM833 652h1v2h-1zM380 704h1v1h-1zM369 716h1v1h-1zM822 670h1v2h-1zM344 781h1v1h-1zM289 844h1v2h-1zM1029 465h1v2h-1zM313 812h1v1h-1zM654 686h1v2h-1zM889 590h1v1h-1zM892 586h1v1h-1zM998 523h1v2h-1zM1010 498h1v1h-1zM753 674h1v1h-1zM850 624h1v2h-1zM1069 420h1v3h-1zM308 817h1v2h-1zM992 537h1v2h-1zM818 677h1v2h-1zM909 558h1v1h-1zM1049 443h1v1h-1zM757 680h1v1h-1zM332 793h1v1h-1zM997 525h1v3h-1zM947 516h1v2h-1zM932 528h1v1h-1zM284 855h1v2h-1zM913 551h1v1h-1zM351 765h1v3h-1zM1080 398h1v2h-1zM1022 476h1v1h-1zM1025 472h1v1h-1zM905 565h1v1h-1zM355 753h1v3h-1zM1037 455h1v1h-1zM297 831h1v1h-1zM300 826h1v2h-1zM320 805h1v1h-1zM841 638h1v2h-1zM944 520h1v1h-1zM359 740h1v3h-1zM853 620h1v2h-1zM1005 507h1v2h-1zM410 698h1v1h-1zM665 668h1v2h-1zM768 698h1v2h-1zM955 516h1v1h-1zM1076 406h1v2h-1zM411 699h1v1h-1zM901 572h1v1h-1zM764 691h1v2h-1zM805 693h1v1h-1zM1013 492h1v2h-1zM837 645h1v2h-1zM774 705h1v1h-1zM339 786h1v1h-1zM471 704h1v1h-1zM829 659h1v1h-1zM661 675h1v2h-1zM1040 452h1v1h-1zM786 706h1v1h-1zM821 672h1v2h-1zM962 523h1v1h-1zM1075 408h1v2h-1zM303 823h1v1h-1zM372 712h1v1h-1zM1009 499h1v2h-1zM531 705h1v1h-1zM1068 423h1v2h-1zM980 540h1v1h-1zM825 666h1v1h-1zM327 798h1v1h-1zM409 697h1v1h-1zM363 728h1v3h-1zM916 546h1v1h-1zM657 682h1v1h-1zM981 541h1v1h-1zM470 703h1v1h-1zM756 679h1v1h-1zM767 696h1v2h-1zM1060 434h1v1h-1zM970 531h1v1h-1zM1032 461h1v1h-1zM812 685h1v2h-1zM1064 431h1v1h-1zM912 552h1v2h-1zM416 704h1v1h-1zM1079 400h1v2h-1zM315 810h1v1h-1zM840 641h1v1h-1zM924 536h1v1h-1zM961 522h1v1h-1zM1047 445h1v1h-1zM790 703h1v1h-1zM417 705h1v1h-1zM296 832h1v2h-1zM386 699h1v1h-1zM919 542h1v2h-1zM1004 509h1v2h-1zM451 712h1v1h-1zM379 705h1v1h-1zM454 707h1v2h-1zM844 634h1v1h-1zM1028 467h1v1h-1zM908 559h1v2h-1zM888 591h1v1h-1zM856 616h1v2h-1zM1044 448h1v1h-1zM996 528h1v2h-1zM347 775h1v2h-1zM1035 457h1v1h-1zM660 677h1v2h-1zM969 530h1v1h-1zM988 543h1v1h-1zM307 819h1v1h-1zM927 533h1v1h-1zM828 660h1v2h-1zM755 677h1v1h-1zM763 689h1v2h-1zM883 597h1v1h-1zM1067 425h1v3h-1zM832 654h1v1h-1zM824 667h1v2h-1zM891 587h1v1h-1zM1012 494h1v2h-1zM807 691h1v1h-1zM406 694h1v1h-1zM1051 441h1v1h-1zM310 815h1v1h-1zM886 593h1v1h-1zM334 791h1v1h-1zM766 695h1v1h-1zM847 629h1v1h-1zM867 607h1v1h-1zM934 526h1v1h-1zM1074 410h1v2h-1zM759 682h1v2h-1zM762 687h1v2h-1zM770 701h1v1h-1zM946 518h1v1h-1zM957 518h1v1h-1zM374 710h1v1h-1zM958 519h1v1h-1zM1039 453h1v1h-1zM427 712h1v1h-1zM322 803h1v1h-1zM843 635h1v2h-1zM299 828h1v1h-1zM664 670h1v1h-1zM995 530h1v2h-1zM346 777h1v2h-1zM1031 462h1v2h-1zM656 683h1v2h-1zM625 696h1v1h-1zM457 702h1v2h-1zM1055 438h1v1h-1zM341 784h1v1h-1zM804 694h1v1h-1zM1018 482h1v2h-1zM769 700h1v1h-1zM956 517h1v1h-1zM983 543h1v1h-1zM412 700h1v1h-1zM758 681h1v1h-1zM423 709h1v1h-1zM453 709h1v2h-1zM381 703h1v1h-1zM305 821h1v1h-1zM426 711h1v1h-1zM302 824h1v1h-1zM1046 446h1v1h-1zM329 796h1v1h-1zM918 544h1v1h-1zM897 579h1v1h-1zM963 524h1v1h-1zM929 531h1v1h-1zM964 525h1v1h-1zM855 618h1v1h-1zM1034 458h1v1h-1zM317 808h1v1h-1zM811 687h1v1h-1zM926 534h1v1h-1zM982 542h1v1h-1zM839 642h1v1h-1zM971 532h1v1h-1zM921 540h1v1h-1zM802 696h1v1h-1zM336 789h1v1h-1zM846 630h1v2h-1zM835 649h1v1h-1zM858 614h1v1h-1zM990 541h1v1h-1zM885 594h1v2h-1zM659 679h1v1h-1zM448 715h1v1h-1zM1073 412h1v2h-1zM324 801h1v1h-1zM933 527h1v1h-1zM814 683h1v1h-1zM1021 477h1v2h-1zM904 566h1v2h-1zM893 585h1v1h-1zM761 685h1v1h-1zM456 704h1v2h-1zM352 764h1v1h-1zM288 846h1v2h-1zM809 689h1v1h-1zM312 813h1v1h-1zM1017 484h1v2h-1zM900 573h1v2h-1zM869 605h1v1h-1zM1041 451h1v1h-1zM376 708h1v1h-1zM978 538h1v1h-1zM407 695h1v1h-1zM817 679h1v1h-1zM373 711h1v1h-1zM331 794h1v1h-1zM896 580h1v2h-1zM1008 501h1v2h-1zM452 711h1v1h-1zM985 546h1v1h-1zM321 804h1v1h-1zM842 637h1v1h-1zM760 684h1v1h-1zM845 632h1v2h-1zM959 520h1v1h-1zM428 713h1v1h-1zM319 806h1v1h-1zM928 532h1v1h-1zM343 782h1v1h-1zM849 626h1v1h-1zM806 692h1v1h-1zM429 714h1v1h-1zM309 816h1v1h-1zM662 673h1v2h-1zM391 696h1v1h-1zM383 701h1v1h-1zM966 527h1v1h-1zM292 839h1v1h-1zM295 834h1v2h-1zM304 822h1v1h-1zM771 702h1v1h-1zM460 697h1v1h-1zM1024 473h1v1h-1zM328 797h1v1h-1zM907 561h1v2h-1zM931 529h1v1h-1zM1016 486h1v2h-1zM899 575h1v2h-1zM368 717h1v1h-1zM371 713h1v1h-1zM414 702h1v1h-1zM857 615h1v1h-1zM977 537h1v1h-1zM852 622h1v1h-1zM316 809h1v1h-1zM1059 435h1v1h-1zM1048 444h1v1h-1zM820 674h1v1h-1zM314 811h1v1h-1zM920 541h1v1h-1zM984 544h1v1h-1zM1020 479h1v1h-1zM338 787h1v1h-1zM413 701h1v1h-1zM749 668h1v1h-1zM860 612h1v1h-1zM335 790h1v1h-1zM1036 456h1v1h-1zM864 609h1v1h-1zM378 706h1v1h-1zM939 523h1v1h-1zM744 665h1v1h-1zM973 534h1v1h-1zM884 596h1v1h-1zM326 799h1v1h-1zM463 697h1v1h-1zM965 526h1v1h-1z" fill="#20b2aa"/>
<path d="M592 698h6v1h-6zM1062 467h5v1h-5zM645 678h5v1h-5zM494 735h7v1h-7zM784 609h5v1h-5zM734 638h5v1h-5zM947 526h4v1h-4zM892 555h5v1h-5zM839 584h5v1h-5zM865 569h4v1h-4zM348 801h5v1h-5zM1057 469h6v1h-6zM262 837h6v1h-6zM810 597h6v1h-6zM229 852h6v1h-6zM258 839h5v1h-5zM486 738h7v1h-7zM227 853h5v1h-5zM1077 460h5v1h-5zM806 599h5v1h-5zM753 628h4v1h-4zM635 682h6v1h-6zM340 804h6v1h-6zM484 739h6v1h-6zM570 707h6v1h-6zM883 559h5v1h-5zM830 588h6v1h-6zM542 719h6v1h-6zM632 683h7v1h-7zM337 805h7v1h-7zM716 647h5v1h-5zM278 830h5v1h-5zM306 817h6v1h-6zM983 502h5v1h-5zM540 720h6v1h-6zM417 765h6v1h-6zM826 590h5v1h-5zM714 648h5v1h-5zM929 536h5v1h-5zM275 831h6v1h-6zM656 673h5v1h-5zM686 660h6v1h-6zM476 742h6v1h-6zM980 504h4v1h-4zM413 767h5v1h-5zM955 520h4v1h-4zM441 754h6v1h-6zM624 686h7v1h-7zM329 808h7v1h-7zM979 505h4v1h-4zM560 711h6v1h-6zM360 795h5v1h-5zM736 637h5v1h-5zM531 723h7v1h-7zM326 809h7v1h-7zM1002 492h6v1h-6zM297 821h6v1h-6zM1028 482h5v1h-5zM922 540h5v1h-5zM998 494h5v1h-5zM377 786h5v1h-5zM918 542h5v1h-5zM862 571h4v1h-4zM521 726h7v1h-7zM1079 459h3v1h-3zM318 812h7v1h-7zM610 691h7v1h-7zM779 612h4v1h-4zM518 727h7v1h-7zM964 514h4v1h-4zM726 642h5v1h-5zM940 530h5v1h-5zM1018 486h6v1h-6zM963 515h4v1h-4zM396 776h5v1h-5zM828 589h5v1h-5zM797 603h5v1h-5zM937 532h4v1h-4zM879 561h5v1h-5zM220 856h6v1h-6zM508 730h8v1h-8zM902 550h6v1h-6zM250 843h5v1h-5zM627 685h6v1h-6zM1068 464h5v1h-5zM216 858h5v1h-5zM681 662h6v1h-6zM898 552h5v1h-5zM245 845h6v1h-6zM845 581h5v1h-5zM470 744h7v1h-7zM763 622h4v1h-4zM707 651h6v1h-6zM269 834h5v1h-5zM817 594h5v1h-5zM467 745h7v1h-7zM702 653h6v1h-6zM434 757h6v1h-6zM265 836h5v1h-5zM616 689h6v1h-6zM553 714h6v1h-6zM674 665h6v1h-6zM585 701h6v1h-6zM432 758h6v1h-6zM1048 473h6v1h-6zM728 641h5v1h-5zM549 716h5v1h-5zM1021 485h5v1h-5zM580 703h6v1h-6zM515 728h7v1h-7zM313 814h6v1h-6zM724 643h5v1h-5zM286 826h6v1h-6zM991 498h4v1h-4zM961 516h4v1h-4zM746 632h5v1h-5zM855 575h5v1h-5zM1070 463h5v1h-5zM742 634h5v1h-5zM1010 489h6v1h-6zM873 564h5v1h-5zM819 593h6v1h-6zM1004 491h7v1h-7zM500 733h6v1h-6zM267 835h5v1h-5zM872 565h4v1h-4zM672 666h6v1h-6zM408 770h5v1h-5zM759 624h5v1h-5zM790 606h6v1h-6zM238 848h6v1h-6zM613 690h7v1h-7zM461 747h7v1h-7zM643 679h5v1h-5zM404 772h5v1h-5zM946 527h4v1h-4zM889 556h6v1h-6zM315 813h7v1h-7zM971 510h4v1h-4zM402 773h5v1h-5zM345 802h7v1h-7zM458 748h7v1h-7zM695 656h6v1h-6zM987 500h5v1h-5zM1015 487h7v1h-7zM452 750h7v1h-7zM693 657h6v1h-6zM857 574h4v1h-4zM664 669h6v1h-6zM368 791h4v1h-4zM602 694h7v1h-7zM449 751h7v1h-7zM911 546h5v1h-5zM769 618h4v1h-4zM572 706h6v1h-6zM422 763h5v1h-5zM854 576h4v1h-4zM505 731h7v1h-7zM366 792h5v1h-5zM1037 478h6v1h-6zM1066 465h5v1h-5zM1007 490h6v1h-6zM385 782h4v1h-4zM497 734h6v1h-6zM786 608h5v1h-5zM562 710h6v1h-6zM887 557h6v1h-6zM835 586h5v1h-5zM907 548h5v1h-5zM630 684h6v1h-6zM660 671h6v1h-6zM597 696h7v1h-7zM957 519h4v1h-4zM443 753h7v1h-7zM595 697h6v1h-6zM415 766h5v1h-5zM621 687h7v1h-7zM299 820h6v1h-6zM953 522h3v1h-3zM900 551h6v1h-6zM324 810h6v1h-6zM356 797h5v1h-5zM295 822h5v1h-5zM524 725h8v1h-8zM558 712h5v1h-5zM863 570h5v1h-5zM730 640h5v1h-5zM1023 484h6v1h-6zM430 759h5v1h-5zM373 788h5v1h-5zM225 854h5v1h-5zM776 614h4v1h-4zM881 560h5v1h-5zM1072 462h6v1h-6zM750 630h4v1h-4zM335 806h6v1h-6zM1046 474h6v1h-6zM252 842h5v1h-5zM479 741h6v1h-6zM392 778h5v1h-5zM799 602h6v1h-6zM684 661h5v1h-5zM247 844h6v1h-6zM821 592h6v1h-6zM473 743h7v1h-7zM651 675h6v1h-6zM795 604h5v1h-5zM977 506h4v1h-4zM218 857h5v1h-5zM590 699h6v1h-6zM527 724h8v1h-8zM847 580h4v1h-4zM732 639h5v1h-5zM896 553h5v1h-5zM843 582h5v1h-5zM321 811h6v1h-6zM375 787h5v1h-5zM582 702h6v1h-6zM915 544h4v1h-4zM1074 461h6v1h-6zM551 715h6v1h-6zM824 591h5v1h-5zM933 534h5v1h-5zM744 633h5v1h-5zM870 566h4v1h-4zM815 595h5v1h-5zM464 746h7v1h-7zM669 667h6v1h-6zM234 850h5v1h-5zM944 528h4v1h-4zM288 825h6v1h-6zM913 545h4v1h-4zM691 658h5v1h-5zM254 841h5v1h-5zM424 762h5v1h-5zM720 645h5v1h-5zM308 816h6v1h-6zM909 547h5v1h-5zM537 721h6v1h-6zM567 708h6v1h-6zM302 819h5v1h-5zM931 535h5v1h-5zM928 537h4v1h-4zM383 783h5v1h-5zM1059 468h6v1h-6zM972 509h4v1h-4zM400 774h5v1h-5zM808 598h6v1h-6zM994 496h5v1h-5zM667 668h6v1h-6zM231 851h6v1h-6zM481 740h6v1h-6zM662 670h6v1h-6zM600 695h6v1h-6zM419 764h6v1h-6zM304 818h5v1h-5zM766 620h4v1h-4zM850 578h5v1h-5zM954 521h4v1h-4zM439 755h6v1h-6zM712 649h5v1h-5zM654 674h5v1h-5zM412 768h4v1h-4zM1025 483h6v1h-6zM1055 470h5v1h-5zM256 840h5v1h-5zM920 541h5v1h-5zM804 600h5v1h-5zM751 629h5v1h-5zM394 777h5v1h-5zM358 796h5v1h-5zM649 676h6v1h-6zM996 495h5v1h-5zM761 623h4v1h-4zM291 824h5v1h-5zM705 652h5v1h-5zM916 543h5v1h-5zM608 692h6v1h-6zM777 613h5v1h-5zM700 654h6v1h-6zM426 761h5v1h-5zM547 717h5v1h-5zM772 616h5v1h-5zM935 533h5v1h-5zM958 518h4v1h-4zM214 859h5v1h-5zM387 781h4v1h-4zM502 732h7v1h-7zM740 635h5v1h-5zM240 847h6v1h-6zM236 849h5v1h-5zM406 771h5v1h-5zM577 704h6v1h-6zM837 585h5v1h-5zM722 644h5v1h-5zM284 827h5v1h-5zM989 499h5v1h-5zM960 517h4v1h-4zM832 587h6v1h-6zM455 749h7v1h-7zM985 501h5v1h-5zM364 793h5v1h-5zM771 617h4v1h-4zM1039 477h6v1h-6zM1035 479h5v1h-5zM788 607h5v1h-5zM492 736h6v1h-6zM969 511h4v1h-4zM852 577h4v1h-4zM222 855h6v1h-6zM905 549h5v1h-5zM768 619h4v1h-4zM709 650h6v1h-6zM924 539h5v1h-5zM619 688h6v1h-6zM556 713h5v1h-5zM939 531h4v1h-4zM748 631h4v1h-4zM877 562h5v1h-5zM679 663h6v1h-6zM243 846h5v1h-5zM951 523h4v1h-4zM354 798h5v1h-5zM293 823h5v1h-5zM428 760h5v1h-5zM511 729h8v1h-8zM774 615h4v1h-4zM1044 475h5v1h-5zM1012 488h7v1h-7zM1064 466h5v1h-5zM792 605h6v1h-6zM813 596h5v1h-5zM758 625h4v1h-4zM841 583h5v1h-5zM867 568h4v1h-4zM638 681h6v1h-6zM885 558h5v1h-5zM658 672h5v1h-5zM688 659h6v1h-6zM332 807h6v1h-6zM534 722h7v1h-7zM764 621h5v1h-5zM868 567h5v1h-5zM379 785h5v1h-5zM942 529h5v1h-5zM1051 472h5v1h-5zM781 611h4v1h-4zM489 737h6v1h-6zM966 513h4v1h-4zM398 775h5v1h-5zM565 709h6v1h-6zM273 832h6v1h-6zM926 538h4v1h-4zM271 833h5v1h-5zM587 700h6v1h-6zM381 784h5v1h-5zM437 756h5v1h-5zM993 497h4v1h-4zM859 573h4v1h-4zM390 779h5v1h-5zM875 563h5v1h-5zM410 769h4v1h-4zM975 507h5v1h-5zM894 554h5v1h-5zM605 693h6v1h-6zM575 705h6v1h-6zM738 636h5v1h-5zM756 626h4v1h-4zM260 838h6v1h-6zM640 680h6v1h-6zM343 803h6v1h-6zM311 815h5v1h-5zM545 718h5v1h-5zM718 646h5v1h-5zM280 829h5v1h-5zM446 752h7v1h-7zM982 503h4v1h-4zM1032 480h6v1h-6zM1030 481h6v1h-6zM1000 493h5v1h-5zM1053 471h5v1h-5zM782 610h5v1h-5zM967 512h5v1h-5zM282 828h5v1h-5zM801 601h6v1h-6zM849 579h4v1h-4zM677 664h5v1h-5zM698 655h5v1h-5zM370 790h4v1h-4zM388 780h5v1h-5zM647 677h5v1h-5zM974 508h4v1h-4zM860 572h4v1h-4zM1042 476h5v1h-5zM362 794h5v1h-5zM950 524h4v1h-4zM352 799h5v1h-5zM371 789h5v1h-5zM755 627h4v1h-4zM949 525h3v1h-3zM351 800h4v1h-4z" fill="#5a5a5a"/>
<path d="M502 814h7v1h-7zM762 734h5v1h-5zM903 673h5v1h-5zM873 687h6v1h-6zM595 787h8v1h-8zM499 815h7v1h-7zM1008 612h4v1h-4zM846 699h5v1h-5zM1029 601h5v1h-5zM665 768h8v1h-8zM868 689h6v1h-6zM782 725h7v1h-7zM562 796h9v1h-9zM816 712h6v1h-6zM685 762h8v1h-8zM1025 603h5v1h-5zM1054 585h3v1h-3zM490 818h7v1h-7zM895 677h5v1h-5zM555 798h8v1h-8zM387 846h6v1h-6zM453 826h10v1h-10zM654 771h8v1h-8zM354 858h7v1h-7zM994 620h4v1h-4zM577 792h8v1h-8zM891 679h5v1h-5zM449 827h10v1h-10zM676 765h7v1h-7zM966 639h5v1h-5zM913 668h5v1h-5zM1042 593h5v1h-5zM991 622h4v1h-4zM384 847h7v1h-7zM441 829h9v1h-9zM793 721h7v1h-7zM481 820h10v1h-10zM909 670h5v1h-5zM437 830h9v1h-9zM933 658h5v1h-5zM566 795h8v1h-8zM429 832h9v1h-9zM785 724h6v1h-6zM467 823h10v1h-10zM929 660h5v1h-5zM811 714h6v1h-6zM462 824h11v1h-11zM725 750h6v1h-6zM628 778h9v1h-9zM841 701h6v1h-6zM1051 587h4v1h-4zM779 726h7v1h-7zM1079 569h3v1h-3zM866 690h6v1h-6zM951 648h5v1h-5zM718 752h8v1h-8zM1075 571h5v1h-5zM975 633h4v1h-4zM751 739h6v1h-6zM861 692h6v1h-6zM948 650h5v1h-5zM551 799h9v1h-9zM714 753h8v1h-8zM419 835h7v1h-7zM647 773h8v1h-8zM771 730h5v1h-5zM476 821h11v1h-11zM544 801h8v1h-8zM708 755h7v1h-7zM1017 607h5v1h-5zM643 774h9v1h-9zM374 851h6v1h-6zM636 776h8v1h-8zM534 804h8v1h-8zM698 758h7v1h-7zM1059 581h3v1h-3zM406 839h7v1h-7zM1036 597h4v1h-4zM632 777h8v1h-8zM531 805h8v1h-8zM1001 616h4v1h-4zM721 751h8v1h-8zM624 779h9v1h-9zM1077 570h5v1h-5zM977 632h4v1h-4zM524 807h8v1h-8zM365 854h7v1h-7zM621 780h8v1h-8zM521 808h8v1h-8zM974 634h4v1h-4zM804 717h6v1h-6zM416 836h7v1h-7zM835 704h5v1h-5zM773 729h5v1h-5zM801 718h6v1h-6zM1019 606h5v1h-5zM832 705h6v1h-6zM1068 574h5v1h-5zM744 742h6v1h-6zM511 811h8v1h-8zM854 695h6v1h-6zM885 682h5v1h-5zM852 696h5v1h-5zM1060 580h4v1h-4zM409 838h8v1h-8zM883 683h5v1h-5zM599 786h8v1h-8zM982 628h4v1h-4zM958 644h4v1h-4zM956 645h5v1h-5zM362 855h7v1h-7zM688 761h8v1h-8zM398 842h6v1h-6zM997 618h5v1h-5zM591 788h9v1h-9zM923 663h5v1h-5zM392 844h7v1h-7zM921 664h5v1h-5zM360 856h6v1h-6zM613 782h9v1h-9zM742 743h6v1h-6zM1046 591h4v1h-4zM941 654h4v1h-4zM581 791h8v1h-8zM352 859h6v1h-6zM602 785h9v1h-9zM735 746h6v1h-6zM850 697h5v1h-5zM764 733h6v1h-6zM672 766h8v1h-8zM788 723h6v1h-6zM570 794h8v1h-8zM730 748h6v1h-6zM821 710h6v1h-6zM760 735h5v1h-5zM871 688h6v1h-6zM1027 602h5v1h-5zM1055 584h4v1h-4zM493 817h7v1h-7zM1044 592h4v1h-4zM911 669h5v1h-5zM968 638h4v1h-4zM790 722h7v1h-7zM988 624h4v1h-4zM965 640h4v1h-4zM472 822h10v1h-10zM669 767h8v1h-8zM843 700h6v1h-6zM1004 614h5v1h-5zM661 769h9v1h-9zM559 797h8v1h-8zM458 825h10v1h-10zM814 713h6v1h-6zM1052 586h4v1h-4zM486 819h8v1h-8zM893 678h5v1h-5zM651 772h8v1h-8zM412 837h8v1h-8zM711 754h8v1h-8zM639 775h9v1h-9zM1038 596h4v1h-4zM376 850h7v1h-7zM931 659h5v1h-5zM403 840h7v1h-7zM1034 598h5v1h-5zM1003 615h4v1h-4zM999 617h5v1h-5zM799 719h6v1h-6zM830 706h6v1h-6zM1015 608h5v1h-5zM514 810h8v1h-8zM1065 576h4v1h-4zM740 744h5v1h-5zM881 684h5v1h-5zM508 812h7v1h-7zM692 760h7v1h-7zM955 646h4v1h-4zM899 675h5v1h-5zM395 843h6v1h-6zM920 665h4v1h-4zM937 656h5v1h-5zM823 709h6v1h-6zM1009 611h5v1h-5zM980 630h3v1h-3zM863 691h6v1h-6zM1067 575h4v1h-4zM970 637h4v1h-4zM548 800h8v1h-8zM379 849h6v1h-6zM1006 613h4v1h-4zM371 852h6v1h-6zM432 831h10v1h-10zM754 738h5v1h-5zM425 833h8v1h-8zM1023 604h5v1h-5zM950 649h4v1h-4zM809 715h6v1h-6zM422 834h8v1h-8zM749 740h6v1h-6zM1050 588h3v1h-3zM889 680h5v1h-5zM990 623h4v1h-4zM769 731h5v1h-5zM382 848h6v1h-6zM859 693h5v1h-5zM907 671h5v1h-5zM704 756h8v1h-8zM1061 579h4v1h-4zM927 661h5v1h-5zM695 759h7v1h-7zM1072 572h6v1h-6zM946 651h5v1h-5zM971 636h4v1h-4zM617 781h8v1h-8zM610 783h8v1h-8zM606 784h8v1h-8zM984 627h4v1h-4zM901 674h5v1h-5zM1031 600h4v1h-4zM973 635h3v1h-3zM996 619h4v1h-4zM682 763h7v1h-7zM915 667h6v1h-6zM573 793h9v1h-9zM939 655h4v1h-4zM935 657h5v1h-5zM819 711h5v1h-5zM733 747h5v1h-5zM981 629h4v1h-4zM756 737h5v1h-5zM728 749h6v1h-6zM839 702h5v1h-5zM588 789h8v1h-8zM390 845h6v1h-6zM777 727h6v1h-6zM1041 594h4v1h-4zM963 641h4v1h-4zM758 736h5v1h-5zM541 802h8v1h-8zM987 625h4v1h-4zM1013 609h5v1h-5zM658 770h8v1h-8zM357 857h6v1h-6zM796 720h6v1h-6zM737 745h6v1h-6zM400 841h7v1h-7zM876 686h6v1h-6zM1033 599h4v1h-4zM848 698h5v1h-5zM1056 583h4v1h-4zM917 666h5v1h-5zM679 764h7v1h-7zM1064 577h4v1h-4zM878 685h6v1h-6zM505 813h7v1h-7zM953 647h4v1h-4zM496 816h7v1h-7zM978 631h4v1h-4zM445 828h9v1h-9zM806 716h6v1h-6zM1021 605h5v1h-5zM942 653h5v1h-5zM856 694h6v1h-6zM766 732h6v1h-6zM538 803h7v1h-7zM701 757h8v1h-8zM960 643h4v1h-4zM905 672h5v1h-5zM368 853h7v1h-7zM528 806h7v1h-7zM925 662h5v1h-5zM747 741h5v1h-5zM1049 589h3v1h-3zM518 809h7v1h-7zM1070 573h6v1h-6zM828 707h5v1h-5zM1058 582h3v1h-3zM897 676h5v1h-5zM1039 595h4v1h-4zM837 703h5v1h-5zM775 728h5v1h-5zM887 681h5v1h-5zM944 652h5v1h-5zM961 642h5v1h-5zM985 626h4v1h-4zM826 708h5v1h-5zM1011 610h5v1h-5zM584 790h8v1h-8zM1063 578h3v1h-3zM1047 590h4v1h-4zM993 621h4v1h-4z" fill="#ff00ff"/>
<path d="M365 346h2v1h-2zM828 142h2v1h-2zM762 171h2v1h-2zM946 90h2v1h-2zM281 383h2v1h-2zM465 302h2v1h-2zM1105 20h2v1h-2zM623 232h3v1h-3zM1021 57h2v1h-2zM326 363h2v1h-2zM1139 5h2v1h-2zM723 188h3v1h-3zM657 217h3v1h-3zM882 118h2v1h-2zM841 136h3v1h-3zM1066 37h2v1h-2zM589 247h3v1h-3zM916 103h2v1h-2zM1100 22h2v1h-2zM619 234h2v1h-2zM778 164h2v1h-2zM962 83h2v1h-2zM301 374h2v1h-2zM480 295h3v1h-3zM878 120h2v1h-2zM485 293h2v1h-2zM812 149h2v1h-2zM996 68h2v1h-2zM331 361h2v1h-2zM515 280h2v1h-2zM1070 35h3v1h-3zM857 129h2v1h-2zM376 341h2v1h-2zM773 166h2v1h-2zM707 195h3v1h-3zM292 378h2v1h-2zM932 96h2v1h-2zM1116 15h2v1h-2zM639 225h3v1h-3zM966 81h2v1h-2zM272 387h2v1h-2zM669 212h2v1h-2zM853 131h2v1h-2zM1011 61h3v1h-3zM351 352h2v1h-2zM928 98h2v1h-2zM535 271h2v1h-2zM862 127h2v1h-2zM1046 46h2v1h-2zM564 258h3v1h-3zM748 177h3v1h-3zM907 107h2v1h-2zM426 319h2v1h-2zM823 144h2v1h-2zM757 173h3v1h-3zM1007 63h2v1h-2zM276 385h3v1h-3zM505 284h3v1h-3zM689 203h3v1h-3zM803 153h2v1h-2zM873 122h2v1h-2zM322 365h2v1h-2zM719 190h2v1h-2zM903 109h2v1h-2zM421 321h3v1h-3zM1061 39h3v1h-3zM401 330h2v1h-2zM585 249h2v1h-2zM764 170h2v1h-2zM698 199h3v1h-3zM769 168h2v1h-2zM912 105h2v1h-2zM1095 24h3v1h-3zM288 380h2v1h-2zM614 236h3v1h-3zM446 310h3v1h-3zM957 85h2v1h-2zM1027 54h3v1h-3zM362 347h3v1h-3zM297 376h2v1h-2zM476 297h2v1h-2zM1057 41h2v1h-2zM576 253h2v1h-2zM1036 50h3v1h-3zM342 356h2v1h-2zM739 181h2v1h-2zM923 100h2v1h-2zM372 343h2v1h-2zM442 312h2v1h-2zM952 87h3v1h-3zM471 299h3v1h-3zM1111 17h3v1h-3zM303 373h3v1h-3zM451 308h2v1h-2zM635 227h2v1h-2zM814 148h2v1h-2zM819 146h2v1h-2zM338 358h2v1h-2zM664 214h3v1h-3zM977 76h3v1h-3zM496 288h3v1h-3zM893 113h3v1h-3zM1077 32h3v1h-3zM412 325h3v1h-3zM347 354h2v1h-2zM526 275h2v1h-2zM596 244h2v1h-2zM530 273h3v1h-3zM710 194h2v1h-2zM1107 19h2v1h-2zM1086 28h3v1h-3zM392 334h2v1h-2zM789 159h2v1h-2zM973 78h2v1h-2zM308 371h2v1h-2zM492 290h2v1h-2zM605 240h3v1h-3zM1002 65h3v1h-3zM521 277h3v1h-3zM353 351h3v1h-3zM685 205h2v1h-2zM269 388h3v1h-3zM869 124h2v1h-2zM387 336h3v1h-3zM546 266h3v1h-3zM943 91h3v1h-3zM1127 10h2v1h-2zM646 222h2v1h-2zM580 251h3v1h-3zM760 172h2v1h-2zM283 382h2v1h-2zM467 301h2v1h-2zM839 137h2v1h-2zM1023 56h2v1h-2zM358 349h2v1h-2zM542 268h2v1h-2zM1052 43h3v1h-3zM571 255h3v1h-3zM884 117h3v1h-3zM403 329h3v1h-3zM800 154h3v1h-3zM735 183h2v1h-2zM319 366h3v1h-3zM918 102h3v1h-3zM1102 21h3v1h-3zM437 314h3v1h-3zM621 233h2v1h-2zM993 69h3v1h-3zM780 163h2v1h-2zM299 375h2v1h-2zM696 200h2v1h-2zM630 229h3v1h-3zM810 150h2v1h-2zM333 360h2v1h-2zM517 279h2v1h-2zM741 180h3v1h-3zM889 115h2v1h-2zM1073 34h2v1h-2zM592 246h2v1h-2zM775 165h3v1h-3zM294 377h3v1h-3zM934 95h3v1h-3zM453 307h3v1h-3zM850 132h3v1h-3zM785 161h2v1h-2zM1034 51h2v1h-2zM968 80h3v1h-3zM487 292h3v1h-3zM671 211h2v1h-2zM830 141h2v1h-2zM349 353h2v1h-2zM746 178h2v1h-2zM680 207h2v1h-2zM859 128h3v1h-3zM930 97h2v1h-2zM864 126h2v1h-2zM449 309h2v1h-2zM383 338h2v1h-2zM567 257h2v1h-2zM791 158h3v1h-3zM939 93h2v1h-2zM726 187h2v1h-2zM310 370h3v1h-3zM1123 12h2v1h-2zM642 224h2v1h-2zM825 143h3v1h-3zM344 355h3v1h-3zM984 73h3v1h-3zM279 384h2v1h-2zM462 303h3v1h-3zM503 285h2v1h-2zM900 110h3v1h-3zM687 204h2v1h-2zM834 139h3v1h-3zM1084 29h2v1h-2zM1018 58h3v1h-3zM603 241h2v1h-2zM537 270h2v1h-2zM721 189h2v1h-2zM880 119h2v1h-2zM399 331h2v1h-2zM648 221h3v1h-3zM796 156h2v1h-2zM980 75h2v1h-2zM914 104h2v1h-2zM499 287h2v1h-2zM433 316h2v1h-2zM617 235h2v1h-2zM360 348h2v1h-2zM692 202h2v1h-2zM875 121h3v1h-3zM394 333h3v1h-3zM328 362h3v1h-3zM512 281h3v1h-3zM553 263h2v1h-2zM909 106h3v1h-3zM737 182h2v1h-2zM1134 7h2v1h-2zM1068 36h2v1h-2zM653 219h2v1h-2zM587 248h2v1h-2zM771 167h2v1h-2zM955 86h2v1h-2zM290 379h2v1h-2zM474 298h2v1h-2zM633 228h2v1h-2zM1030 53h2v1h-2zM964 82h2v1h-2zM549 265h2v1h-2zM483 294h2v1h-2zM667 213h2v1h-2zM891 114h2v1h-2zM369 344h3v1h-3zM410 326h2v1h-2zM807 151h3v1h-3zM594 245h2v1h-2zM925 99h3v1h-3zM1109 18h2v1h-2zM444 311h2v1h-2zM378 340h3v1h-3zM628 230h2v1h-2zM959 84h3v1h-3zM787 160h2v1h-2zM306 372h2v1h-2zM1118 14h2v1h-2zM703 197h2v1h-2zM637 226h2v1h-2zM821 145h2v1h-2zM1005 64h2v1h-2zM340 357h2v1h-2zM524 276h2v1h-2zM682 206h3v1h-3zM1080 31h2v1h-2zM1014 60h2v1h-2zM598 243h3v1h-3zM533 272h2v1h-2zM782 162h3v1h-3zM716 191h3v1h-3zM941 92h2v1h-2zM644 223h2v1h-2zM578 252h2v1h-2zM975 77h2v1h-2zM494 289h2v1h-2zM678 208h2v1h-2zM837 138h2v1h-2zM356 350h2v1h-2zM539 269h3v1h-3zM937 94h2v1h-2zM871 123h2v1h-2zM1055 42h2v1h-2zM390 335h2v1h-2zM574 254h2v1h-2zM732 184h3v1h-3zM1129 9h3v1h-3zM435 315h2v1h-2zM832 140h2v1h-2zM766 169h3v1h-3zM991 70h2v1h-2zM285 381h3v1h-3zM694 201h2v1h-2zM1091 26h2v1h-2zM1025 55h2v1h-2zM544 267h2v1h-2zM728 186h2v1h-2zM887 116h2v1h-2zM406 328h2v1h-2zM987 72h2v1h-2zM921 101h2v1h-2zM440 313h2v1h-2zM1145 2h2v1h-2zM816 147h3v1h-3zM1041 48h2v1h-2zM335 359h3v1h-3zM744 179h2v1h-2zM1141 4h2v1h-2zM1075 33h2v1h-2zM267 389h2v1h-2zM381 339h2v1h-2zM1120 13h3v1h-3zM456 306h2v1h-2zM460 304h2v1h-2zM971 79h2v1h-2zM490 291h2v1h-2zM673 210h3v1h-3zM1016 59h2v1h-2zM866 125h3v1h-3zM798 155h2v1h-2zM1125 11h2v1h-2zM982 74h2v1h-2zM317 367h2v1h-2zM431 317h2v1h-2zM510 282h2v1h-2zM397 332h2v1h-2zM555 262h3v1h-3zM1136 6h3v1h-3zM848 133h2v1h-2zM1032 52h2v1h-2zM367 345h2v1h-2zM551 264h2v1h-2zM560 260h2v1h-2zM263 391h2v1h-2zM705 196h2v1h-2zM501 286h2v1h-2zM898 111h2v1h-2zM1082 30h2v1h-2zM417 323h2v1h-2zM601 242h2v1h-2zM794 157h2v1h-2zM313 369h2v1h-2zM655 218h2v1h-2zM755 174h2v1h-2zM274 386h2v1h-2zM948 89h2v1h-2zM1132 8h2v1h-2zM651 220h2v1h-2zM844 135h2v1h-2zM428 318h3v1h-3zM730 185h2v1h-2zM408 327h2v1h-2zM805 152h2v1h-2zM989 71h2v1h-2zM324 364h2v1h-2zM626 231h2v1h-2zM998 67h2v1h-2zM701 198h2v1h-2zM1043 47h3v1h-3zM562 259h2v1h-2zM478 296h2v1h-2zM265 390h2v1h-2zM1143 3h2v1h-2zM458 305h2v1h-2zM855 130h2v1h-2zM1039 49h2v1h-2zM374 342h2v1h-2zM558 261h2v1h-2zM676 209h2v1h-2zM1048 45h2v1h-2zM419 322h2v1h-2zM751 176h2v1h-2zM1093 25h2v1h-2zM612 237h2v1h-2zM1009 62h2v1h-2zM315 368h2v1h-2zM712 193h2v1h-2zM508 283h2v1h-2zM905 108h2v1h-2zM1089 27h2v1h-2zM424 320h2v1h-2zM608 239h2v1h-2zM950 88h2v1h-2zM469 300h2v1h-2zM385 337h2v1h-2zM662 215h2v1h-2zM1059 40h2v1h-2zM846 134h2v1h-2zM1064 38h2v1h-2zM583 250h2v1h-2zM261 392h2v1h-2zM1000 66h2v1h-2zM519 278h2v1h-2zM896 112h2v1h-2zM415 324h2v1h-2zM1114 16h2v1h-2zM1050 44h2v1h-2zM569 256h2v1h-2zM753 175h2v1h-2zM610 238h2v1h-2zM714 192h2v1h-2zM660 216h2v1h-2zM1098 23h2v1h-2zM528 274h2v1h-2z" fill="#00f"/>
<path d="M542 679h3v1h-3zM1341 319h3v1h-3zM1042 454h2v1h-2zM1150 405h3v1h-3zM807 560h2v1h-2zM915 511h2v1h-2zM571 666h3v1h-3zM851 540h2v1h-2zM507 695h2v1h-2zM616 646h2v1h-2zM1086 434h2v1h-2zM1259 356h2v1h-2zM1304 336h2v1h-2zM1239 365h2v1h-2zM1004 471h2v1h-2zM704 606h3v1h-3zM469 712h2v1h-2zM1273 350h2v1h-2zM969 487h2v1h-2zM1037 456h3v1h-3zM1312 332h3v1h-3zM1082 436h2v1h-2zM738 591h2v1h-2zM778 573h2v1h-2zM503 697h2v1h-2zM846 542h3v1h-3zM547 677h2v1h-2zM1126 416h2v1h-2zM1166 398h2v1h-2zM891 522h2v1h-2zM827 551h2v1h-2zM935 502h2v1h-2zM591 657h3v1h-3zM1199 383h3v1h-3zM1244 363h2v1h-2zM900 518h2v1h-2zM665 624h2v1h-2zM1288 343h2v1h-2zM1053 449h2v1h-2zM1162 400h2v1h-2zM1332 323h3v1h-3zM1097 429h2v1h-2zM753 584h3v1h-3zM862 535h2v1h-2zM518 690h2v1h-2zM562 670h3v1h-3zM1131 414h2v1h-2zM1250 360h3v1h-3zM911 513h2v1h-2zM1215 376h2v1h-2zM1219 374h2v1h-2zM1328 325h2v1h-2zM1024 462h2v1h-2zM875 529h3v1h-3zM984 480h2v1h-2zM749 586h2v1h-2zM685 615h2v1h-2zM793 566h2v1h-2zM1073 440h2v1h-2zM838 546h2v1h-2zM602 652h3v1h-3zM773 575h2v1h-2zM538 681h2v1h-2zM1210 378h3v1h-3zM1146 407h2v1h-2zM611 648h2v1h-2zM1299 338h2v1h-2zM1235 367h2v1h-2zM960 491h2v1h-2zM1000 473h2v1h-2zM764 579h3v1h-3zM1108 424h3v1h-3zM700 608h2v1h-2zM769 577h2v1h-2zM465 714h2v1h-2zM1077 438h2v1h-2zM733 593h3v1h-3zM622 643h3v1h-3zM1122 418h2v1h-2zM1230 369h3v1h-3zM886 524h3v1h-3zM822 553h2v1h-2zM931 504h2v1h-2zM587 659h2v1h-2zM696 610h2v1h-2zM461 716h2v1h-2zM631 639h2v1h-2zM1319 329h2v1h-2zM1084 435h2v1h-2zM784 570h3v1h-3zM549 676h2v1h-2zM1284 345h2v1h-2zM1048 451h3v1h-3zM1157 402h2v1h-2zM1093 431h2v1h-2zM818 555h2v1h-2zM514 692h2v1h-2zM582 661h3v1h-3zM858 537h2v1h-2zM627 641h2v1h-2zM1206 380h2v1h-2zM902 517h2v1h-2zM1246 362h2v1h-2zM946 497h3v1h-3zM671 621h2v1h-2zM711 603h2v1h-2zM480 707h3v1h-3zM980 482h2v1h-2zM744 588h3v1h-3zM680 617h2v1h-2zM1133 413h2v1h-2zM898 519h2v1h-2zM1068 442h3v1h-3zM833 548h2v1h-2zM942 499h2v1h-2zM598 654h2v1h-2zM1177 393h2v1h-2zM534 683h2v1h-2zM642 634h3v1h-3zM906 515h3v1h-3zM795 565h3v1h-3zM1295 340h2v1h-2zM1339 320h2v1h-2zM995 475h2v1h-2zM1064 444h2v1h-2zM760 581h2v1h-2zM1104 426h2v1h-2zM804 561h3v1h-3zM873 530h2v1h-2zM529 685h2v1h-2zM569 667h2v1h-2zM1153 404h2v1h-2zM849 541h2v1h-2zM917 510h3v1h-3zM957 492h3v1h-3zM618 645h2v1h-2zM1226 371h2v1h-2zM1266 353h2v1h-2zM991 477h2v1h-2zM756 583h2v1h-2zM926 506h3v1h-3zM691 612h2v1h-2zM1315 331h2v1h-2zM1079 437h3v1h-3zM736 592h2v1h-2zM844 543h2v1h-2zM500 698h3v1h-3zM780 572h2v1h-2zM1015 466h2v1h-2zM545 678h2v1h-2zM653 629h3v1h-3zM1188 388h2v1h-2zM1202 382h2v1h-2zM1241 364h3v1h-3zM966 488h3v1h-3zM1350 315h2v1h-2zM1011 468h2v1h-2zM667 623h2v1h-2zM707 605h2v1h-2zM775 574h3v1h-3zM815 556h3v1h-3zM476 709h2v1h-2zM1095 430h2v1h-2zM864 534h2v1h-2zM629 640h2v1h-2zM1128 415h3v1h-3zM1237 366h2v1h-2zM1173 395h2v1h-2zM829 550h2v1h-2zM937 501h3v1h-3zM594 656h2v1h-2zM702 607h2v1h-2zM638 636h2v1h-2zM1281 346h3v1h-3zM1326 326h2v1h-2zM982 481h2v1h-2zM1091 432h2v1h-2zM1261 355h3v1h-3zM1026 461h2v1h-2zM682 616h3v1h-3zM791 567h2v1h-2zM491 702h3v1h-3zM1059 446h3v1h-3zM1099 428h3v1h-3zM824 552h3v1h-3zM525 687h2v1h-2zM1144 408h2v1h-2zM1213 377h2v1h-2zM1148 406h2v1h-2zM1257 357h2v1h-2zM913 512h2v1h-2zM953 494h2v1h-2zM678 618h2v1h-2zM613 647h3v1h-3zM722 598h2v1h-2zM487 704h2v1h-2zM1221 373h3v1h-3zM687 614h2v1h-2zM1310 333h2v1h-2zM1139 410h3v1h-3zM1075 439h2v1h-2zM1184 390h2v1h-2zM840 545h2v1h-2zM1119 419h3v1h-3zM949 496h2v1h-2zM884 525h2v1h-2zM540 680h2v1h-2zM609 649h2v1h-2zM649 631h2v1h-2zM1228 370h2v1h-2zM929 505h2v1h-2zM693 611h3v1h-3zM698 609h2v1h-2zM1306 335h2v1h-2zM1002 472h2v1h-2zM1071 441h2v1h-2zM1346 317h2v1h-2zM1006 470h2v1h-2zM662 625h3v1h-3zM771 576h2v1h-2zM811 558h2v1h-2zM536 682h2v1h-2zM471 711h3v1h-3zM1159 401h3v1h-3zM860 536h2v1h-2zM516 691h2v1h-2zM625 642h2v1h-2zM560 671h2v1h-2zM1233 368h2v1h-2zM997 474h3v1h-3zM933 503h2v1h-2zM478 708h2v1h-2zM1321 328h3v1h-3zM977 483h3v1h-3zM1022 463h2v1h-2zM747 587h2v1h-2zM787 569h2v1h-2zM511 693h3v1h-3zM551 675h3v1h-3zM895 520h3v1h-3zM556 673h2v1h-2zM1175 394h2v1h-2zM520 689h3v1h-3zM944 498h2v1h-2zM640 635h2v1h-2zM1253 359h2v1h-2zM909 514h2v1h-2zM1017 465h3v1h-3zM673 620h3v1h-3zM782 571h2v1h-2zM1292 341h3v1h-3zM718 600h2v1h-2zM483 706h2v1h-2zM1337 321h2v1h-2zM1062 445h2v1h-2zM1106 425h2v1h-2zM762 580h2v1h-2zM871 531h2v1h-2zM527 686h2v1h-2zM463 715h2v1h-2zM1179 392h3v1h-3zM835 547h3v1h-3zM880 527h2v1h-2zM605 651h2v1h-2zM645 633h2v1h-2zM724 597h3v1h-3zM1224 372h2v1h-2zM1268 352h2v1h-2zM924 507h2v1h-2zM993 476h2v1h-2zM689 613h2v1h-2zM1033 458h2v1h-2zM802 562h2v1h-2zM498 699h2v1h-2zM1301 337h3v1h-3zM767 578h2v1h-2zM531 684h3v1h-3zM1155 403h2v1h-2zM1195 385h2v1h-2zM920 509h2v1h-2zM855 538h3v1h-3zM620 644h2v1h-2zM729 595h2v1h-2zM964 489h2v1h-2zM494 701h2v1h-2zM1264 354h2v1h-2zM1308 334h2v1h-2zM1352 314h2v1h-2zM1008 469h3v1h-3zM1117 420h2v1h-2zM709 604h2v1h-2zM474 710h2v1h-2zM1317 330h2v1h-2zM1190 387h3v1h-3zM1170 396h3v1h-3zM1279 347h2v1h-2zM940 500h2v1h-2zM596 655h2v1h-2zM636 637h2v1h-2zM1248 361h2v1h-2zM1013 467h2v1h-2zM713 602h3v1h-3zM558 672h2v1h-2zM1102 427h2v1h-2zM758 582h2v1h-2zM866 533h3v1h-3zM523 688h2v1h-2zM975 484h2v1h-2zM567 668h2v1h-2zM1255 358h2v1h-2zM1020 464h2v1h-2zM955 493h2v1h-2zM720 599h2v1h-2zM988 478h3v1h-3zM1028 460h3v1h-3zM1137 411h2v1h-2zM798 564h2v1h-2zM1142 409h2v1h-2zM1186 389h2v1h-2zM842 544h2v1h-2zM882 526h2v1h-2zM607 650h2v1h-2zM651 630h2v1h-2zM1348 316h2v1h-2zM1113 422h2v1h-2zM878 528h2v1h-2zM813 557h2v1h-2zM578 663h2v1h-2zM1275 349h2v1h-2zM740 590h2v1h-2zM809 559h2v1h-2zM1044 453h2v1h-2zM509 694h2v1h-2zM1324 327h2v1h-2zM1088 433h3v1h-3zM853 539h2v1h-2zM789 568h2v1h-2zM554 674h2v1h-2zM489 703h2v1h-2zM1270 351h3v1h-3zM971 486h2v1h-2zM951 495h2v1h-2zM676 619h2v1h-2zM716 601h2v1h-2zM485 705h2v1h-2zM1182 391h2v1h-2zM647 632h2v1h-2zM1290 342h2v1h-2zM1335 322h2v1h-2zM1035 457h2v1h-2zM800 563h2v1h-2zM565 669h2v1h-2zM1344 318h2v1h-2zM574 665h2v1h-2zM1197 384h2v1h-2zM922 508h2v1h-2zM962 490h2v1h-2zM731 594h2v1h-2zM1040 455h2v1h-2zM1193 386h2v1h-2zM658 627h2v1h-2zM893 521h2v1h-2zM1046 452h2v1h-2zM1055 448h2v1h-2zM1124 417h2v1h-2zM820 554h2v1h-2zM589 658h2v1h-2zM1168 397h2v1h-2zM1208 379h2v1h-2zM869 532h2v1h-2zM633 638h3v1h-3zM1286 344h2v1h-2zM986 479h2v1h-2zM1330 324h2v1h-2zM1031 459h2v1h-2zM904 516h2v1h-2zM496 700h2v1h-2zM1066 443h2v1h-2zM727 596h2v1h-2zM1115 421h2v1h-2zM580 662h2v1h-2zM889 523h2v1h-2zM1277 348h2v1h-2zM742 589h2v1h-2zM467 713h2v1h-2zM1164 399h2v1h-2zM1204 381h2v1h-2zM973 485h2v1h-2zM669 622h2v1h-2zM1135 412h2v1h-2zM600 653h2v1h-2zM1111 423h2v1h-2zM576 664h2v1h-2zM660 626h2v1h-2zM1057 447h2v1h-2zM656 628h2v1h-2zM505 696h2v1h-2zM1217 375h2v1h-2zM1051 450h2v1h-2zM751 585h2v1h-2zM1297 339h2v1h-2zM585 660h2v1h-2zM831 549h2v1h-2z" fill="#00f"/>
<path d="M760 529h2v1h-2zM911 406h2v1h-2zM879 432h2v1h-2zM1122 234h2v1h-2zM662 609h2v1h-2zM1339 57h2v1h-2zM1090 260h2v1h-2zM1241 137h2v1h-2zM743 543h2v1h-2zM1171 194h2v1h-2zM1160 203h2v1h-2zM1301 88h2v1h-2zM1312 79h2v1h-2zM673 600h2v1h-2zM630 635h2v1h-2zM852 454h2v1h-2zM1003 331h2v1h-2zM992 340h2v1h-2zM1133 225h2v1h-2zM1214 159h2v1h-2zM1350 48h2v1h-2zM922 397h2v1h-2zM705 574h2v1h-2zM1063 282h2v1h-2zM1182 185h2v1h-2zM1263 119h2v1h-2zM1252 128h2v1h-2zM1112 242h2v1h-2zM754 534h2v1h-2zM895 419h2v1h-2zM1101 251h2v1h-2zM884 428h2v1h-2zM1323 70h2v1h-2zM944 379h2v1h-2zM933 388h2v1h-2zM716 565h2v1h-2zM1074 273h2v1h-2zM1155 207h2v1h-2zM1144 216h2v1h-2zM646 622h2v1h-2zM765 525h2v1h-2zM1193 176h2v1h-2zM976 353h2v1h-2zM1334 61h2v1h-2zM965 362h2v1h-2zM695 582h2v1h-2zM684 591h2v1h-2zM825 476h2v1h-2zM1057 287h2v1h-2zM1187 181h2v1h-2zM1014 322h2v1h-2zM797 499h2v1h-2zM657 613h2v1h-2zM955 370h2v1h-2zM738 547h2v1h-2zM727 556h2v1h-2zM1236 141h2v1h-2zM1306 84h2v1h-2zM949 375h2v1h-2zM1166 198h2v1h-2zM776 516h2v1h-2zM917 401h2v1h-2zM906 410h2v1h-2zM1279 106h2v1h-2zM998 335h2v1h-2zM640 627h2v1h-2zM987 344h2v1h-2zM770 521h2v1h-2zM1198 172h2v1h-2zM1317 75h2v1h-2zM668 604h2v1h-2zM819 481h2v1h-2zM1258 123h2v1h-2zM1247 132h2v1h-2zM1030 309h2v1h-2zM1019 318h2v1h-2zM749 538h2v1h-2zM1079 269h2v1h-2zM862 446h2v1h-2zM1068 278h2v1h-2zM1209 163h2v1h-2zM1290 97h2v1h-2zM711 569h2v1h-2zM700 578h2v1h-2zM1139 220h2v1h-2zM781 512h2v1h-2zM900 415h2v1h-2zM1041 300h2v1h-2zM830 472h2v1h-2zM971 357h2v1h-2zM1177 189h2v1h-2zM960 366h2v1h-2zM803 494h2v1h-2zM1009 326h2v1h-2zM651 618h2v1h-2zM792 503h2v1h-2zM873 437h2v1h-2zM1231 145h2v1h-2zM1220 154h2v1h-2zM722 560h2v1h-2zM841 463h2v1h-2zM624 640h2v1h-2zM1084 265h2v1h-2zM1269 114h2v1h-2zM1052 291h2v1h-2zM982 348h2v1h-2zM733 551h2v1h-2zM814 485h2v1h-2zM1095 256h2v1h-2zM1025 313h2v1h-2zM635 631h2v1h-2zM1225 150h2v1h-2zM1344 53h2v1h-2zM857 450h2v1h-2zM846 459h2v1h-2zM1204 167h2v1h-2zM1274 110h2v1h-2zM678 596h2v1h-2zM1117 238h2v1h-2zM1106 247h2v1h-2zM808 490h2v1h-2zM938 384h2v1h-2zM1285 101h2v1h-2zM927 393h2v1h-2zM1296 92h2v1h-2zM787 507h2v1h-2zM1047 295h2v1h-2zM689 587h2v1h-2zM1036 304h2v1h-2zM1128 229h2v1h-2zM868 441h2v1h-2zM890 423h2v1h-2zM835 468h2v1h-2zM1328 66h2v1h-2zM1149 212h2v1h-2zM1266 117h1v1h-1zM908 409h1v1h-1zM845 460h1v1h-1zM989 343h1v1h-1zM1192 177h1v1h-1zM834 469h1v1h-1zM1347 51h1v1h-1zM1336 60h1v1h-1zM823 478h1v1h-1zM694 583h1v1h-1zM1196 174h1v1h-1zM838 466h1v1h-1zM1164 200h1v1h-1zM806 492h1v1h-1zM740 546h1v1h-1zM1179 188h1v1h-1zM821 480h1v1h-1zM1024 314h1v1h-1zM666 606h1v1h-1zM1168 197h1v1h-1zM810 489h1v1h-1zM655 615h1v1h-1zM1094 257h1v1h-1zM1157 206h1v1h-1zM1028 311h1v1h-1zM670 603h1v1h-1zM954 371h1v1h-1zM1017 320h1v1h-1zM659 612h1v1h-1zM1098 254h1v1h-1zM943 380h1v1h-1zM642 626h1v1h-1zM926 394h1v1h-1zM1273 111h1v1h-1zM915 403h1v1h-1zM786 508h1v1h-1zM849 457h1v1h-1zM1288 99h1v1h-1zM930 391h1v1h-1zM775 517h1v1h-1zM1277 108h1v1h-1zM919 400h1v1h-1zM1203 168h1v1h-1zM1137 222h1v1h-1zM779 514h1v1h-1zM1281 105h1v1h-1zM1207 165h1v1h-1zM762 528h1v1h-1zM1046 296h1v1h-1zM1109 245h1v1h-1zM751 537h1v1h-1zM1035 305h1v1h-1zM677 597h1v1h-1zM958 368h1v1h-1zM1039 302h1v1h-1zM899 416h1v1h-1zM856 451h1v1h-1zM790 505h1v1h-1zM1229 147h1v1h-1zM871 439h1v1h-1zM1292 96h1v1h-1zM1218 156h1v1h-1zM860 448h1v1h-1zM1233 144h1v1h-1zM720 562h1v1h-1zM1222 153h1v1h-1zM864 445h1v1h-1zM1067 279h1v1h-1zM709 571h1v1h-1zM1148 213h1v1h-1zM1211 162h1v1h-1zM1050 293h1v1h-1zM692 585h1v1h-1zM681 594h1v1h-1zM1054 290h1v1h-1zM1338 58h1v1h-1zM980 350h1v1h-1zM622 642h1v1h-1zM1043 299h1v1h-1zM1124 233h1v1h-1zM1327 67h1v1h-1zM969 359h1v1h-1zM903 413h1v1h-1zM1342 55h1v1h-1zM829 473h1v1h-1zM1331 64h1v1h-1zM1299 90h1v1h-1zM886 427h1v1h-1zM1170 195h1v1h-1zM812 487h1v1h-1zM875 436h1v1h-1zM1314 78h1v1h-1zM1159 204h1v1h-1zM801 496h1v1h-1zM1303 87h1v1h-1zM661 610h1v1h-1zM1163 201h1v1h-1zM805 493h1v1h-1zM650 619h1v1h-1zM1089 261h1v1h-1zM731 553h1v1h-1zM794 502h1v1h-1zM1152 210h1v1h-1zM1078 270h1v1h-1zM665 607h1v1h-1zM707 573h1v1h-1zM633 633h1v1h-1zM1135 224h1v1h-1zM1061 284h1v1h-1zM648 621h1v1h-1zM995 338h1v1h-1zM637 630h1v1h-1zM921 398h1v1h-1zM984 347h1v1h-1zM626 639h1v1h-1zM1065 281h1v1h-1zM1268 115h1v1h-1zM910 407h1v1h-1zM1349 49h1v1h-1zM1283 103h1v1h-1zM1346 52h1v1h-1zM1272 112h1v1h-1zM914 404h1v1h-1zM840 464h1v1h-1zM753 535h1v1h-1zM816 484h1v1h-1zM1255 126h1v1h-1zM897 418h1v1h-1zM1100 252h1v1h-1zM742 544h1v1h-1zM1181 186h1v1h-1zM1244 135h1v1h-1zM757 532h1v1h-1zM1104 249h1v1h-1zM746 541h1v1h-1zM672 601h1v1h-1zM735 550h1v1h-1zM1174 192h1v1h-1zM1093 258h1v1h-1zM1108 246h1v1h-1zM1034 306h1v1h-1zM718 564h1v1h-1zM925 395h1v1h-1zM1006 329h1v1h-1zM851 455h1v1h-1zM1353 46h1v1h-1zM1287 100h1v1h-1zM929 392h1v1h-1zM866 443h1v1h-1zM1213 160h1v1h-1zM855 452h1v1h-1zM1202 169h1v1h-1zM683 592h1v1h-1zM764 526h1v1h-1zM827 475h1v1h-1zM1185 183h1v1h-1zM1111 243h1v1h-1zM1200 171h1v1h-1zM1045 297h1v1h-1zM687 589h1v1h-1zM1189 180h1v1h-1zM676 598h1v1h-1zM1115 240h1v1h-1zM1049 294h1v1h-1zM691 586h1v1h-1zM1333 62h1v1h-1zM975 354h1v1h-1zM1038 303h1v1h-1zM1322 71h1v1h-1zM1021 317h1v1h-1zM1305 85h1v1h-1zM947 377h1v1h-1zM1294 94h1v1h-1zM936 386h1v1h-1zM807 491h1v1h-1zM870 440h1v1h-1zM1309 82h1v1h-1zM1154 208h1v1h-1zM796 500h1v1h-1zM1298 91h1v1h-1zM940 383h1v1h-1zM785 509h1v1h-1zM1224 151h1v1h-1zM1158 205h1v1h-1zM1126 231h1v1h-1zM768 523h1v1h-1zM1141 219h1v1h-1zM783 511h1v1h-1zM628 637h1v1h-1zM1130 228h1v1h-1zM772 520h1v1h-1zM1056 288h1v1h-1zM698 580h1v1h-1zM1119 237h1v1h-1zM632 634h1v1h-1zM916 402h1v1h-1zM979 351h1v1h-1zM1337 59h1v1h-1zM905 411h1v1h-1zM962 365h1v1h-1zM1246 133h1v1h-1zM888 425h1v1h-1zM951 374h1v1h-1zM1032 308h1v1h-1zM1235 142h1v1h-1zM877 434h1v1h-1zM1316 76h1v1h-1zM811 488h1v1h-1zM1250 130h1v1h-1zM892 422h1v1h-1zM737 548h1v1h-1zM1239 139h1v1h-1zM881 431h1v1h-1zM726 557h1v1h-1zM1165 199h1v1h-1zM1228 148h1v1h-1zM1099 253h1v1h-1zM741 545h1v1h-1zM1243 136h1v1h-1zM667 605h1v1h-1zM1169 196h1v1h-1zM724 559h1v1h-1zM1008 327h1v1h-1zM1071 276h1v1h-1zM713 568h1v1h-1zM997 336h1v1h-1zM639 628h1v1h-1zM702 577h1v1h-1zM1060 285h1v1h-1zM986 345h1v1h-1zM920 399h1v1h-1zM1001 333h1v1h-1zM1348 50h1v1h-1zM990 342h1v1h-1zM973 356h1v1h-1zM1176 190h1v1h-1zM818 482h1v1h-1zM1257 124h1v1h-1zM1320 73h1v1h-1zM1191 178h1v1h-1zM1254 127h1v1h-1zM833 470h1v1h-1zM1180 187h1v1h-1zM822 479h1v1h-1zM748 539h1v1h-1zM682 593h1v1h-1zM745 542h1v1h-1zM1184 184h1v1h-1zM1029 310h1v1h-1zM1110 244h1v1h-1zM1012 324h1v1h-1zM654 616h1v1h-1zM643 625h1v1h-1zM1082 267h1v1h-1zM1016 321h1v1h-1zM861 447h1v1h-1zM1300 89h1v1h-1zM942 381h1v1h-1zM1005 330h1v1h-1zM1289 98h1v1h-1zM931 390h1v1h-1zM1304 86h1v1h-1zM791 504h1v1h-1zM1293 95h1v1h-1zM759 530h1v1h-1zM1261 121h1v1h-1zM774 518h1v1h-1zM837 467h1v1h-1zM1195 175h1v1h-1zM1276 109h1v1h-1zM1121 235h1v1h-1zM763 527h1v1h-1zM1265 118h1v1h-1zM752 536h1v1h-1zM623 641h1v1h-1zM1125 232h1v1h-1zM767 524h1v1h-1zM970 358h1v1h-1zM1051 292h1v1h-1zM693 584h1v1h-1zM756 533h1v1h-1zM1114 241h1v1h-1zM1040 301h1v1h-1zM953 372h1v1h-1zM1097 255h1v1h-1zM1023 315h1v1h-1zM1086 264h1v1h-1zM957 369h1v1h-1zM883 429h1v1h-1zM946 378h1v1h-1zM1027 312h1v1h-1zM1230 146h1v1h-1zM872 438h1v1h-1zM1308 83h1v1h-1zM732 552h1v1h-1zM1234 143h1v1h-1zM876 435h1v1h-1zM844 461h1v1h-1zM715 566h1v1h-1zM778 515h1v1h-1zM1217 157h1v1h-1zM859 449h1v1h-1zM1062 283h1v1h-1zM704 575h1v1h-1zM1143 217h1v1h-1zM1206 166h1v1h-1zM848 458h1v1h-1zM1132 226h1v1h-1zM719 563h1v1h-1zM1066 280h1v1h-1zM708 572h1v1h-1zM634 632h1v1h-1zM697 581h1v1h-1zM1055 289h1v1h-1zM1136 223h1v1h-1zM981 349h1v1h-1zM1070 277h1v1h-1zM680 595h1v1h-1zM964 363h1v1h-1zM1311 80h1v1h-1zM824 477h1v1h-1zM887 426h1v1h-1zM1326 68h1v1h-1zM968 360h1v1h-1zM813 486h1v1h-1zM1315 77h1v1h-1zM828 474h1v1h-1zM1175 191h1v1h-1zM817 483h1v1h-1zM1319 74h1v1h-1zM1245 134h1v1h-1zM800 497h1v1h-1zM645 623h1v1h-1zM1147 214h1v1h-1zM789 506h1v1h-1zM1073 274h1v1h-1zM1162 202h1v1h-1zM649 620h1v1h-1zM1151 211h1v1h-1zM996 337h1v1h-1zM638 629h1v1h-1zM1077 271h1v1h-1zM653 617h1v1h-1zM937 385h1v1h-1zM1000 334h1v1h-1zM1284 102h1v1h-1zM894 420h1v1h-1zM1267 116h1v1h-1zM909 408h1v1h-1zM1330 65h1v1h-1zM1256 125h1v1h-1zM898 417h1v1h-1zM832 471h1v1h-1zM1271 113h1v1h-1zM1116 239h1v1h-1zM758 531h1v1h-1zM1260 122h1v1h-1zM902 414h1v1h-1zM1105 248h1v1h-1zM747 540h1v1h-1zM1186 182h1v1h-1zM1249 131h1v1h-1zM1120 236h1v1h-1zM1088 262h1v1h-1zM730 554h1v1h-1zM656 614h1v1h-1zM1092 259h1v1h-1zM1018 319h1v1h-1zM660 611h1v1h-1zM1081 268h1v1h-1zM1007 328h1v1h-1zM878 433h1v1h-1zM941 382h1v1h-1zM867 442h1v1h-1zM1011 325h1v1h-1zM1295 93h1v1h-1zM924 396h1v1h-1zM1208 164h1v1h-1zM850 456h1v1h-1zM913 405h1v1h-1zM1352 47h1v1h-1zM994 339h1v1h-1zM1197 173h1v1h-1zM839 465h1v1h-1zM1278 107h1v1h-1zM1341 56h1v1h-1zM1212 161h1v1h-1zM854 453h1v1h-1zM699 579h1v1h-1zM1201 170h1v1h-1zM843 462h1v1h-1zM688 588h1v1h-1zM1127 230h1v1h-1zM769 522h1v1h-1zM1190 179h1v1h-1zM703 576h1v1h-1zM629 636h1v1h-1zM671 602h1v1h-1zM1173 193h1v1h-1zM686 590h1v1h-1zM1033 307h1v1h-1zM675 599h1v1h-1zM959 367h1v1h-1zM1022 316h1v1h-1zM664 608h1v1h-1zM1103 250h1v1h-1zM948 376h1v1h-1zM882 430h1v1h-1zM1321 72h1v1h-1zM963 364h1v1h-1zM1310 81h1v1h-1zM952 373h1v1h-1zM935 387h1v1h-1zM1138 221h1v1h-1zM780 513h1v1h-1zM1219 155h1v1h-1zM1282 104h1v1h-1zM795 501h1v1h-1zM1216 158h1v1h-1zM1142 218h1v1h-1zM784 510h1v1h-1zM710 570h1v1h-1zM773 519h1v1h-1zM1131 227h1v1h-1zM644 624h1v1h-1zM1146 215h1v1h-1zM991 341h1v1h-1zM1072 275h1v1h-1zM974 355h1v1h-1zM1044 298h1v1h-1zM889 424h1v1h-1zM978 352h1v1h-1zM1262 120h1v1h-1zM904 412h1v1h-1zM967 361h1v1h-1zM1325 69h1v1h-1zM1251 129h1v1h-1zM893 421h1v1h-1zM1240 138h1v1h-1zM721 561h1v1h-1zM802 495h1v1h-1zM865 444h1v1h-1zM1223 152h1v1h-1zM736 549h1v1h-1zM799 498h1v1h-1zM1238 140h1v1h-1zM1083 266h1v1h-1zM725 558h1v1h-1zM1227 149h1v1h-1zM714 567h1v1h-1zM1153 209h1v1h-1zM1087 263h1v1h-1zM729 555h1v1h-1zM932 389h1v1h-1zM1013 323h1v1h-1zM1076 272h1v1h-1zM1002 332h1v1h-1zM1059 286h1v1h-1zM1343 54h1v1h-1zM985 346h1v1h-1zM627 638h1v1h-1zM1332 63h1v1h-1z" fill="#00f"/>
<polygon points="1077,2 1087,2 1082,7" fill="#c0c0c0"/>
<polygon points="1,855 1,860 7,860" fill="#c0c0c0"/>
</g>
<rect x="0" y="1" width="1355" height="1" fill="#000"/>
<rect x="0" y="1" width="1" height="860" fill="#000"/>
<rect x="0" y="880" width="1" height="1" fill="#000"/>
<rect x="1354" y="1" width="1" height="860" fill="#000"/>
<rect x="0" y="860" width="1355" height="1" fill="#000"/>
<rect x="1394" y="0" width="1" height="879" fill="#d4d0c8"/>
<rect x="0" y="878" width="1395" height="1" fill="#d4d0c8"/>
<rect x="75" y="880" width="1320" height="1" fill="#000"/>
<rect x="1355" y="26" width="2" height="1" fill="#000"/>
<text x="1360.3" y="29.6" textLength="32" lengthAdjust="spacingAndGlyphs">1433.90</text>
<rect x="1355" y="58" width="2" height="1" fill="#000"/>
<text x="1360.3" y="61.6" textLength="32" lengthAdjust="spacingAndGlyphs">1415.75</text>
<rect x="1355" y="90" width="2" height="1" fill="#000"/>
<text x="1360.3" y="93.6" textLength="32" lengthAdjust="spacingAndGlyphs">1397.60</text>
<rect x="1355" y="122" width="2" height="1" fill="#000"/>
<text x="1360.3" y="125.6" textLength="32" lengthAdjust="spacingAndGlyphs">1379.45</text>
<rect x="1355" y="154" width="2" height="1" fill="#000"/>
<text x="1360.3" y="157.6" textLength="32" lengthAdjust="spacingAndGlyphs">1361.30</text>
<rect x="1355" y="186" width="2" height="1" fill="#000"/>
<text x="1360.3" y="189.6" textLength="32" lengthAdjust="spacingAndGlyphs">1343.15</text>
<rect x="1355" y="218" width="2" height="1" fill="#000"/>
<text x="1360.3" y="221.6" textLength="32" lengthAdjust="spacingAndGlyphs">1325.00</text>
<rect x="1355" y="250" width="2" height="1" fill="#000"/>
<text x="1360.3" y="253.6" textLength="32" lengthAdjust="spacingAndGlyphs">1307.40</text>
<rect x="1355" y="282" width="2" height="1" fill="#000"/>
<text x="1360.3" y="285.6" textLength="32" lengthAdjust="spacingAndGlyphs">1289.25</text>
<rect x="1355" y="314" width="2" height="1" fill="#000"/>
<text x="1360.3" y="317.6" textLength="32" lengthAdjust="spacingAndGlyphs">1271.10</text>
<rect x="1355" y="346" width="2" height="1" fill="#000"/>
<text x="1360.3" y="349.6" textLength="32" lengthAdjust="spacingAndGlyphs">1252.95</text>
<rect x="1355" y="378" width="2" height="1" fill="#000"/>
<text x="1360.3" y="381.6" textLength="32" lengthAdjust="spacingAndGlyphs">1234.80</text>
<rect x="1355" y="410" width="2" height="1" fill="#000"/>
<text x="1360.3" y="413.6" textLength="32" lengthAdjust="spacingAndGlyphs">1216.65</text>
<rect x="1355" y="442" width="2" height="1" fill="#000"/>
<text x="1360.3" y="445.6" textLength="32" lengthAdjust="spacingAndGlyphs">1199.05</text>
<rect x="1355" y="474" width="2" height="1" fill="#000"/>
<text x="1360.3" y="477.6" textLength="32" lengthAdjust="spacingAndGlyphs">1180.90</text>
<rect x="1355" y="506" width="2" height="1" fill="#000"/>
<text x="1360.3" y="509.6" textLength="32" lengthAdjust="spacingAndGlyphs">1162.75</text>
<rect x="1355" y="538" width="2" height="1" fill="#000"/>
<text x="1360.3" y="541.6" textLength="32" lengthAdjust="spacingAndGlyphs">1144.60</text>
<rect x="1355" y="570" width="2" height="1" fill="#000"/>
<text x="1360.3" y="573.6" textLength="32" lengthAdjust="spacingAndGlyphs">1126.45</text>
<rect x="1355" y="602" width="2" height="1" fill="#000"/>
<text x="1360.3" y="605.6" textLength="32" lengthAdjust="spacingAndGlyphs">1108.30</text>
<rect x="1355" y="634" width="2" height="1" fill="#000"/>
<text x="1360.3" y="637.6" textLength="32" lengthAdjust="spacingAndGlyphs">1090.15</text>
<rect x="1355" y="666" width="2" height="1" fill="#000"/>
<text x="1360.3" y="669.6" textLength="32" lengthAdjust="spacingAndGlyphs">1072.55</text>
<rect x="1355" y="698" width="2" height="1" fill="#000"/>
<text x="1360.3" y="701.6" textLength="32" lengthAdjust="spacingAndGlyphs">1054.40</text>
<rect x="1355" y="730" width="2" height="1" fill="#000"/>
<text x="1360.3" y="733.6" textLength="32" lengthAdjust="spacingAndGlyphs">1036.25</text>
<rect x="1355" y="762" width="2" height="1" fill="#000"/>
<text x="1360.3" y="765.6" textLength="32" lengthAdjust="spacingAndGlyphs">1018.10</text>
<rect x="1355" y="794" width="2" height="1" fill="#000"/>
<text x="1360.3" y="797.6" textLength="27" lengthAdjust="spacingAndGlyphs">999.95</text>
<rect x="1355" y="826" width="2" height="1" fill="#000"/>
<text x="1360.3" y="829.6" textLength="27" lengthAdjust="spacingAndGlyphs">981.80</text>
<rect x="1355" y="858" width="2" height="1" fill="#000"/>
<text x="1360.3" y="861.6" textLength="27" lengthAdjust="spacingAndGlyphs">964.20</text>
<rect x="1357" y="186" width="37" height="11" fill="#000"/>
<rect x="1355" y="186" width="2" height="6" fill="#fff"/>
<text x="1360.3" y="195.6" textLength="32" lengthAdjust="spacingAndGlyphs" style="fill:#fff">1339.75</text>
<rect x="1" y="861" width="1" height="3" fill="#000"/>
<text x="-0.5" y="873.9" textLength="47.6" lengthAdjust="spacingAndGlyphs">3 Sep 2009</text>
<rect x="65" y="861" width="1" height="3" fill="#000"/>
<text x="63.5" y="873.9" textLength="52.7" lengthAdjust="spacingAndGlyphs">25 Sep 2009</text>
<rect x="129" y="861" width="1" height="3" fill="#000"/>
<text x="127.5" y="873.9" textLength="50.7" lengthAdjust="spacingAndGlyphs">19 Oct 2009</text>
<rect x="193" y="861" width="1" height="3" fill="#000"/>
<text x="191.5" y="873.9" textLength="52.7" lengthAdjust="spacingAndGlyphs">10 Nov 2009</text>
<rect x="257" y="861" width="1" height="3" fill="#000"/>
<text x="255.5" y="873.9" textLength="47.6" lengthAdjust="spacingAndGlyphs">2 Dec 2009</text>
<rect x="321" y="861" width="1" height="3" fill="#000"/>
<text x="319.5" y="873.9" textLength="52.7" lengthAdjust="spacingAndGlyphs">24 Dec 2009</text>
<rect x="385" y="861" width="1" height="3" fill="#000"/>
<text x="383.5" y="873.9" textLength="51.2" lengthAdjust="spacingAndGlyphs">14 Jan 2010</text>
<rect x="449" y="861" width="1" height="3" fill="#000"/>
<text x="447.5" y="873.9" textLength="47.0" lengthAdjust="spacingAndGlyphs">2 Feb 2010</text>
<rect x="513" y="861" width="1" height="3" fill="#000"/>
<text x="511.5" y="873.9" textLength="52.2" lengthAdjust="spacingAndGlyphs">21 Feb 2010</text>
<rect x="577" y="861" width="1" height="3" fill="#000"/>
<text x="575.5" y="873.9" textLength="52.2" lengthAdjust="spacingAndGlyphs">11 Mar 2010</text>
<rect x="641" y="861" width="1" height="3" fill="#000"/>
<text x="639.5" y="873.9" textLength="52.2" lengthAdjust="spacingAndGlyphs">30 Mar 2010</text>
<rect x="705" y="861" width="1" height="3" fill="#000"/>
<text x="703.5" y="873.9" textLength="50.7" lengthAdjust="spacingAndGlyphs">20 Apr 2010</text>
<rect x="769" y="861" width="1" height="3" fill="#000"/>
<text x="767.5" y="873.9" textLength="53.8" lengthAdjust="spacingAndGlyphs">12 May 2010</text>
<rect x="833" y="861" width="1" height="3" fill="#000"/>
<text x="831.5" y="873.9" textLength="52.7" lengthAdjust="spacingAndGlyphs">23 Aug 2010</text>
<rect x="897" y="861" width="1" height="3" fill="#000"/>
<text x="895.5" y="873.9" textLength="52.7" lengthAdjust="spacingAndGlyphs">14 Sep 2010</text>
<rect x="961" y="861" width="1" height="3" fill="#000"/>
<text x="959.5" y="873.9" textLength="45.5" lengthAdjust="spacingAndGlyphs">6 Oct 2010</text>
<rect x="1025" y="861" width="1" height="3" fill="#000"/>
<text x="1023.5" y="873.9" textLength="50.7" lengthAdjust="spacingAndGlyphs">28 Oct 2010</text>
<text x="4.7" y="13.4" textLength="50.2" lengthAdjust="spacingAndGlyphs">GOLD,Daily</text>
<text x="62.2" y="13.4" textLength="32" lengthAdjust="spacingAndGlyphs">1339.46</text>
<text x="98.3" y="13.4" textLength="32" lengthAdjust="spacingAndGlyphs">1344.81</text>
<text x="134.2" y="13.4" textLength="32" lengthAdjust="spacingAndGlyphs">1330.97</text>
<text x="170.1" y="13.4" textLength="32" lengthAdjust="spacingAndGlyphs">1339.75</text>
</svg></body></html>
